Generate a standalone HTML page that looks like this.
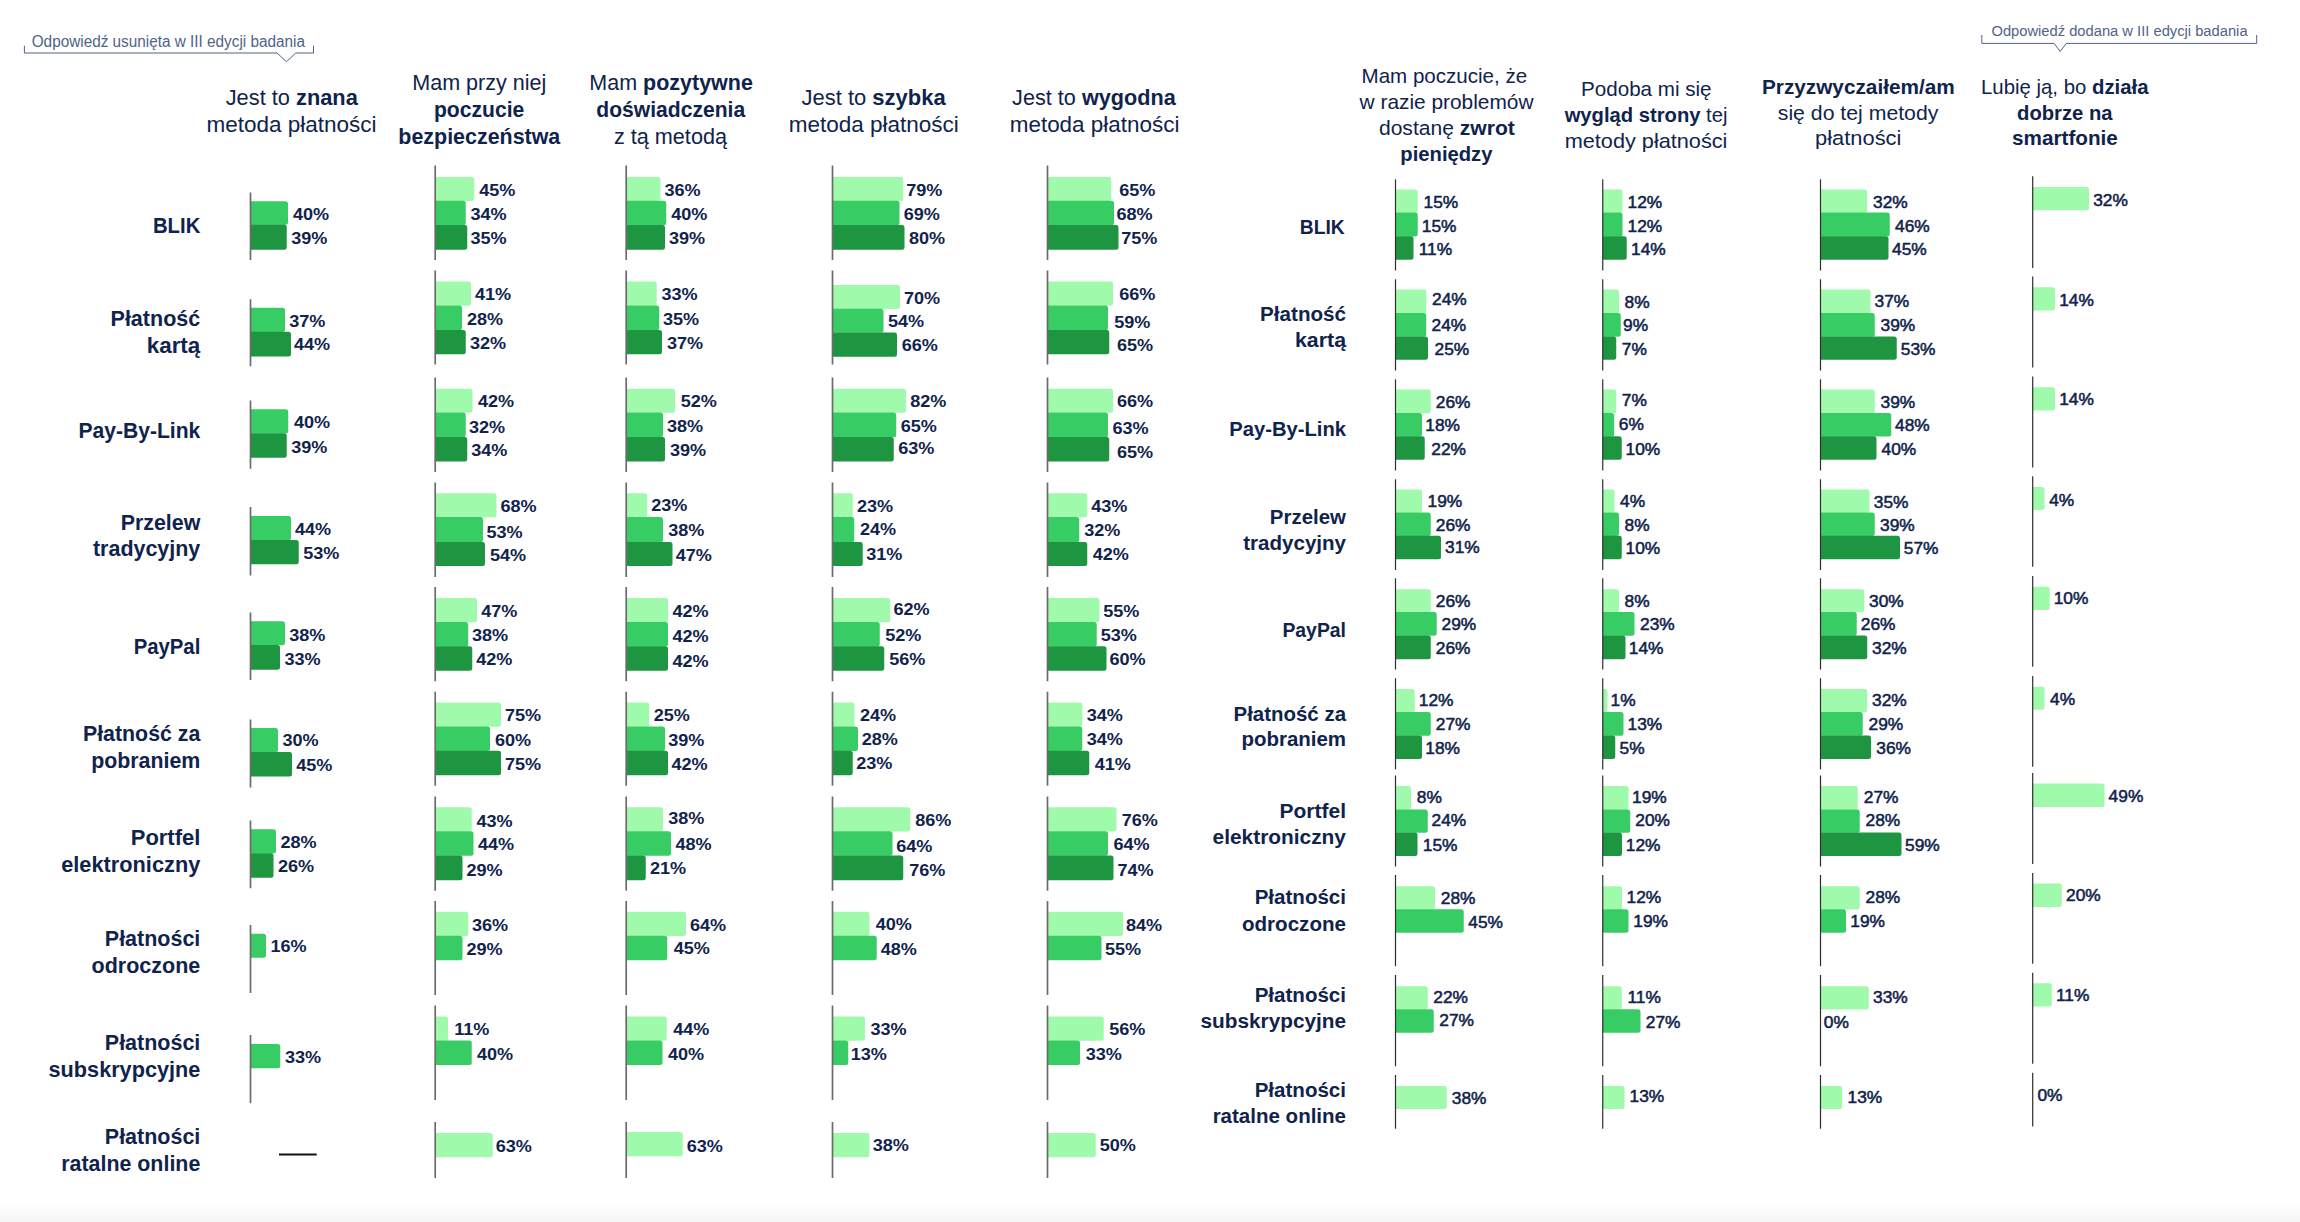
<!DOCTYPE html>
<html lang="pl"><head><meta charset="utf-8"><title>Metody płatności</title>
<style>
html,body{margin:0;padding:0;background:#fff;}
body{width:2300px;height:1222px;overflow:hidden;position:relative;font-family:"Liberation Sans",sans-serif;}
svg{position:absolute;left:0;top:0;display:block;font-family:"Liberation Sans",sans-serif;}
.fade{position:absolute;left:0;top:1203px;width:2300px;height:19px;background:linear-gradient(#fff,#f5f5f5);}
</style></head><body>
<div class="fade"></div>
<svg width="2300" height="1222" viewBox="0 0 2300 1222">
<path d="M250.50 201.25H285.50A2.5 2.5 0 0 1 288.00 203.75V222.30A2.5 2.5 0 0 1 285.50 224.80H250.50Z" fill="#38cc64"/>
<path d="M250.50 224.50H284.25A2.5 2.5 0 0 1 286.75 227.00V247.30A2.5 2.5 0 0 1 284.25 249.80H250.50Z" fill="#1e9641"/>
<path d="M250.50 192.50L250.50 260.00" stroke="#6b6b6b" stroke-width="1.7" fill="none"/>
<text transform="translate(293.00 219.56) scale(1.1300 1)" font-size="16" font-weight="700" text-anchor="start" fill="#10234c" xml:space="preserve">40%</text>
<text transform="translate(291.25 243.68) scale(1.1300 1)" font-size="16" font-weight="700" text-anchor="start" fill="#10234c" xml:space="preserve">39%</text>
<path d="M250.50 307.75H282.50A2.5 2.5 0 0 1 285.00 310.25V329.55A2.5 2.5 0 0 1 282.50 332.05H250.50Z" fill="#38cc64"/>
<path d="M250.50 331.75H288.50A2.5 2.5 0 0 1 291.00 334.25V354.05A2.5 2.5 0 0 1 288.50 356.55H250.50Z" fill="#1e9641"/>
<path d="M250.50 299.25L250.50 366.25" stroke="#6b6b6b" stroke-width="1.7" fill="none"/>
<text transform="translate(289.25 327.43) scale(1.1300 1)" font-size="16" font-weight="700" text-anchor="start" fill="#10234c" xml:space="preserve">37%</text>
<text transform="translate(294.00 349.68) scale(1.1300 1)" font-size="16" font-weight="700" text-anchor="start" fill="#10234c" xml:space="preserve">44%</text>
<path d="M250.50 409.25H285.75A2.5 2.5 0 0 1 288.25 411.75V431.05A2.5 2.5 0 0 1 285.75 433.55H250.50Z" fill="#38cc64"/>
<path d="M250.50 433.25H284.25A2.5 2.5 0 0 1 286.75 435.75V455.30A2.5 2.5 0 0 1 284.25 457.80H250.50Z" fill="#1e9641"/>
<path d="M250.50 400.50L250.50 468.75" stroke="#6b6b6b" stroke-width="1.7" fill="none"/>
<text transform="translate(294.00 427.93) scale(1.1300 1)" font-size="16" font-weight="700" text-anchor="start" fill="#10234c" xml:space="preserve">40%</text>
<text transform="translate(291.25 453.06) scale(1.1300 1)" font-size="16" font-weight="700" text-anchor="start" fill="#10234c" xml:space="preserve">39%</text>
<path d="M250.50 516.00H288.50A2.5 2.5 0 0 1 291.00 518.50V537.80A2.5 2.5 0 0 1 288.50 540.30H250.50Z" fill="#38cc64"/>
<path d="M250.50 540.00H296.25A2.5 2.5 0 0 1 298.75 542.50V561.80A2.5 2.5 0 0 1 296.25 564.30H250.50Z" fill="#1e9641"/>
<path d="M250.50 507.00L250.50 575.50" stroke="#6b6b6b" stroke-width="1.7" fill="none"/>
<text transform="translate(295.00 534.68) scale(1.1300 1)" font-size="16" font-weight="700" text-anchor="start" fill="#10234c" xml:space="preserve">44%</text>
<text transform="translate(303.25 558.68) scale(1.1300 1)" font-size="16" font-weight="700" text-anchor="start" fill="#10234c" xml:space="preserve">53%</text>
<path d="M250.50 621.25H282.50A2.5 2.5 0 0 1 285.00 623.75V642.80A2.5 2.5 0 0 1 282.50 645.30H250.50Z" fill="#38cc64"/>
<path d="M250.50 645.00H277.50A2.5 2.5 0 0 1 280.00 647.50V667.30A2.5 2.5 0 0 1 277.50 669.80H250.50Z" fill="#1e9641"/>
<path d="M250.50 612.50L250.50 680.00" stroke="#6b6b6b" stroke-width="1.7" fill="none"/>
<text transform="translate(289.25 640.80) scale(1.1300 1)" font-size="16" font-weight="700" text-anchor="start" fill="#10234c" xml:space="preserve">38%</text>
<text transform="translate(284.50 664.93) scale(1.1300 1)" font-size="16" font-weight="700" text-anchor="start" fill="#10234c" xml:space="preserve">33%</text>
<path d="M250.50 728.00H275.50A2.5 2.5 0 0 1 278.00 730.50V749.80A2.5 2.5 0 0 1 275.50 752.30H250.50Z" fill="#38cc64"/>
<path d="M250.50 752.00H289.50A2.5 2.5 0 0 1 292.00 754.50V774.05A2.5 2.5 0 0 1 289.50 776.55H250.50Z" fill="#1e9641"/>
<path d="M250.50 719.50L250.50 787.50" stroke="#6b6b6b" stroke-width="1.7" fill="none"/>
<text transform="translate(282.50 745.68) scale(1.1300 1)" font-size="16" font-weight="700" text-anchor="start" fill="#10234c" xml:space="preserve">30%</text>
<text transform="translate(296.25 770.80) scale(1.1300 1)" font-size="16" font-weight="700" text-anchor="start" fill="#10234c" xml:space="preserve">45%</text>
<path d="M250.50 829.25H273.50A2.5 2.5 0 0 1 276.00 831.75V851.05A2.5 2.5 0 0 1 273.50 853.55H250.50Z" fill="#38cc64"/>
<path d="M250.50 853.25H271.00A2.5 2.5 0 0 1 273.50 855.75V875.30A2.5 2.5 0 0 1 271.00 877.80H250.50Z" fill="#1e9641"/>
<path d="M250.50 820.50L250.50 888.25" stroke="#6b6b6b" stroke-width="1.7" fill="none"/>
<text transform="translate(280.50 847.93) scale(1.1300 1)" font-size="16" font-weight="700" text-anchor="start" fill="#10234c" xml:space="preserve">28%</text>
<text transform="translate(278.00 872.05) scale(1.1300 1)" font-size="16" font-weight="700" text-anchor="start" fill="#10234c" xml:space="preserve">26%</text>
<path d="M250.50 933.75H263.50A2.5 2.5 0 0 1 266.00 936.25V955.30A2.5 2.5 0 0 1 263.50 957.80H250.50Z" fill="#38cc64"/>
<path d="M250.50 925.00L250.50 993.00" stroke="#6b6b6b" stroke-width="1.7" fill="none"/>
<text transform="translate(270.50 952.30) scale(1.1300 1)" font-size="16" font-weight="700" text-anchor="start" fill="#10234c" xml:space="preserve">16%</text>
<path d="M250.50 1044.00H277.75A2.5 2.5 0 0 1 280.25 1046.50V1065.80A2.5 2.5 0 0 1 277.75 1068.30H250.50Z" fill="#38cc64"/>
<path d="M250.50 1035.00L250.50 1103.25" stroke="#6b6b6b" stroke-width="1.7" fill="none"/>
<text transform="translate(285.00 1062.68) scale(1.1300 1)" font-size="16" font-weight="700" text-anchor="start" fill="#10234c" xml:space="preserve">33%</text>
<path d="M435.20 177.00H471.75A2.5 2.5 0 0 1 474.25 179.50V198.55A2.5 2.5 0 0 1 471.75 201.05H435.20Z" fill="#a0faab"/>
<path d="M435.20 200.75H463.25A2.5 2.5 0 0 1 465.75 203.25V222.80A2.5 2.5 0 0 1 463.25 225.30H435.20Z" fill="#38cc64"/>
<path d="M435.20 225.00H464.75A2.5 2.5 0 0 1 467.25 227.50V247.30A2.5 2.5 0 0 1 464.75 249.80H435.20Z" fill="#1e9641"/>
<path d="M435.20 165.50L435.20 260.00" stroke="#6b6b6b" stroke-width="1.7" fill="none"/>
<text transform="translate(479.25 195.56) scale(1.1300 1)" font-size="16" font-weight="700" text-anchor="start" fill="#10234c" xml:space="preserve">45%</text>
<text transform="translate(470.50 219.56) scale(1.1300 1)" font-size="16" font-weight="700" text-anchor="start" fill="#10234c" xml:space="preserve">34%</text>
<text transform="translate(470.50 243.93) scale(1.1300 1)" font-size="16" font-weight="700" text-anchor="start" fill="#10234c" xml:space="preserve">35%</text>
<path d="M435.20 281.50H468.50A2.5 2.5 0 0 1 471.00 284.00V303.30A2.5 2.5 0 0 1 468.50 305.80H435.20Z" fill="#a0faab"/>
<path d="M435.20 305.50H459.50A2.5 2.5 0 0 1 462.00 308.00V327.80A2.5 2.5 0 0 1 459.50 330.30H435.20Z" fill="#38cc64"/>
<path d="M435.20 330.00H463.25A2.5 2.5 0 0 1 465.75 332.50V351.80A2.5 2.5 0 0 1 463.25 354.30H435.20Z" fill="#1e9641"/>
<path d="M435.20 270.50L435.20 364.50" stroke="#6b6b6b" stroke-width="1.7" fill="none"/>
<text transform="translate(475.00 300.18) scale(1.1300 1)" font-size="16" font-weight="700" text-anchor="start" fill="#10234c" xml:space="preserve">41%</text>
<text transform="translate(467.00 325.43) scale(1.1300 1)" font-size="16" font-weight="700" text-anchor="start" fill="#10234c" xml:space="preserve">28%</text>
<text transform="translate(470.00 348.68) scale(1.1300 1)" font-size="16" font-weight="700" text-anchor="start" fill="#10234c" xml:space="preserve">32%</text>
<path d="M435.20 388.75H470.00A2.5 2.5 0 0 1 472.50 391.25V410.30A2.5 2.5 0 0 1 470.00 412.80H435.20Z" fill="#a0faab"/>
<path d="M435.20 412.50H463.25A2.5 2.5 0 0 1 465.75 415.00V434.80A2.5 2.5 0 0 1 463.25 437.30H435.20Z" fill="#38cc64"/>
<path d="M435.20 437.00H464.75A2.5 2.5 0 0 1 467.25 439.50V459.05A2.5 2.5 0 0 1 464.75 461.55H435.20Z" fill="#1e9641"/>
<path d="M435.20 377.50L435.20 472.00" stroke="#6b6b6b" stroke-width="1.7" fill="none"/>
<text transform="translate(478.00 407.31) scale(1.1300 1)" font-size="16" font-weight="700" text-anchor="start" fill="#10234c" xml:space="preserve">42%</text>
<text transform="translate(469.00 433.23) scale(1.1300 1)" font-size="16" font-weight="700" text-anchor="start" fill="#10234c" xml:space="preserve">32%</text>
<text transform="translate(471.25 455.81) scale(1.1300 1)" font-size="16" font-weight="700" text-anchor="start" fill="#10234c" xml:space="preserve">34%</text>
<path d="M435.20 493.25H494.00A2.5 2.5 0 0 1 496.50 495.75V514.80A2.5 2.5 0 0 1 494.00 517.30H435.20Z" fill="#a0faab"/>
<path d="M435.20 517.00H480.50A2.5 2.5 0 0 1 483.00 519.50V539.80A2.5 2.5 0 0 1 480.50 542.30H435.20Z" fill="#38cc64"/>
<path d="M435.20 542.00H482.50A2.5 2.5 0 0 1 485.00 544.50V563.55A2.5 2.5 0 0 1 482.50 566.05H435.20Z" fill="#1e9641"/>
<path d="M435.20 482.50L435.20 577.00" stroke="#6b6b6b" stroke-width="1.7" fill="none"/>
<text transform="translate(500.50 511.81) scale(1.1300 1)" font-size="16" font-weight="700" text-anchor="start" fill="#10234c" xml:space="preserve">68%</text>
<text transform="translate(486.50 537.58) scale(1.1300 1)" font-size="16" font-weight="700" text-anchor="start" fill="#10234c" xml:space="preserve">53%</text>
<text transform="translate(490.00 560.55) scale(1.1300 1)" font-size="16" font-weight="700" text-anchor="start" fill="#10234c" xml:space="preserve">54%</text>
<path d="M435.20 598.00H474.50A2.5 2.5 0 0 1 477.00 600.50V619.80A2.5 2.5 0 0 1 474.50 622.30H435.20Z" fill="#a0faab"/>
<path d="M435.20 622.00H465.75A2.5 2.5 0 0 1 468.25 624.50V644.05A2.5 2.5 0 0 1 465.75 646.55H435.20Z" fill="#38cc64"/>
<path d="M435.20 646.25H469.75A2.5 2.5 0 0 1 472.25 648.75V668.30A2.5 2.5 0 0 1 469.75 670.80H435.20Z" fill="#1e9641"/>
<path d="M435.20 587.00L435.20 681.25" stroke="#6b6b6b" stroke-width="1.7" fill="none"/>
<text transform="translate(481.25 616.68) scale(1.1300 1)" font-size="16" font-weight="700" text-anchor="start" fill="#10234c" xml:space="preserve">47%</text>
<text transform="translate(472.00 640.80) scale(1.1300 1)" font-size="16" font-weight="700" text-anchor="start" fill="#10234c" xml:space="preserve">38%</text>
<text transform="translate(476.25 665.05) scale(1.1300 1)" font-size="16" font-weight="700" text-anchor="start" fill="#10234c" xml:space="preserve">42%</text>
<path d="M435.20 702.50H498.50A2.5 2.5 0 0 1 501.00 705.00V724.30A2.5 2.5 0 0 1 498.50 726.80H435.20Z" fill="#a0faab"/>
<path d="M435.20 726.50H487.50A2.5 2.5 0 0 1 490.00 729.00V748.55A2.5 2.5 0 0 1 487.50 751.05H435.20Z" fill="#38cc64"/>
<path d="M435.20 750.75H498.50A2.5 2.5 0 0 1 501.00 753.25V772.80A2.5 2.5 0 0 1 498.50 775.30H435.20Z" fill="#1e9641"/>
<path d="M435.20 691.75L435.20 785.75" stroke="#6b6b6b" stroke-width="1.7" fill="none"/>
<text transform="translate(505.00 721.18) scale(1.1300 1)" font-size="16" font-weight="700" text-anchor="start" fill="#10234c" xml:space="preserve">75%</text>
<text transform="translate(495.00 746.30) scale(1.1300 1)" font-size="16" font-weight="700" text-anchor="start" fill="#10234c" xml:space="preserve">60%</text>
<text transform="translate(505.00 769.55) scale(1.1300 1)" font-size="16" font-weight="700" text-anchor="start" fill="#10234c" xml:space="preserve">75%</text>
<path d="M435.20 807.25H469.25A2.5 2.5 0 0 1 471.75 809.75V829.05A2.5 2.5 0 0 1 469.25 831.55H435.20Z" fill="#a0faab"/>
<path d="M435.20 831.25H471.00A2.5 2.5 0 0 1 473.50 833.75V853.30A2.5 2.5 0 0 1 471.00 855.80H435.20Z" fill="#38cc64"/>
<path d="M435.20 855.50H460.00A2.5 2.5 0 0 1 462.50 858.00V877.80A2.5 2.5 0 0 1 460.00 880.30H435.20Z" fill="#1e9641"/>
<path d="M435.20 796.50L435.20 890.75" stroke="#6b6b6b" stroke-width="1.7" fill="none"/>
<text transform="translate(476.50 827.43) scale(1.1300 1)" font-size="16" font-weight="700" text-anchor="start" fill="#10234c" xml:space="preserve">43%</text>
<text transform="translate(478.00 850.05) scale(1.1300 1)" font-size="16" font-weight="700" text-anchor="start" fill="#10234c" xml:space="preserve">44%</text>
<text transform="translate(466.50 875.93) scale(1.1300 1)" font-size="16" font-weight="700" text-anchor="start" fill="#10234c" xml:space="preserve">29%</text>
<path d="M435.20 911.75H465.75A2.5 2.5 0 0 1 468.25 914.25V933.55A2.5 2.5 0 0 1 465.75 936.05H435.20Z" fill="#a0faab"/>
<path d="M435.20 935.75H460.00A2.5 2.5 0 0 1 462.50 938.25V957.80A2.5 2.5 0 0 1 460.00 960.30H435.20Z" fill="#38cc64"/>
<path d="M435.20 901.00L435.20 995.00" stroke="#6b6b6b" stroke-width="1.7" fill="none"/>
<text transform="translate(472.00 931.43) scale(1.1300 1)" font-size="16" font-weight="700" text-anchor="start" fill="#10234c" xml:space="preserve">36%</text>
<text transform="translate(466.50 954.55) scale(1.1300 1)" font-size="16" font-weight="700" text-anchor="start" fill="#10234c" xml:space="preserve">29%</text>
<path d="M435.20 1016.50H445.50A2.5 2.5 0 0 1 448.00 1019.00V1038.30A2.5 2.5 0 0 1 445.50 1040.80H435.20Z" fill="#a0faab"/>
<path d="M435.20 1040.50H469.25A2.5 2.5 0 0 1 471.75 1043.00V1062.55A2.5 2.5 0 0 1 469.25 1065.05H435.20Z" fill="#38cc64"/>
<path d="M435.20 1005.50L435.20 1100.00" stroke="#6b6b6b" stroke-width="1.7" fill="none"/>
<text transform="translate(454.25 1035.18) scale(1.1300 1)" font-size="16" font-weight="700" text-anchor="start" fill="#10234c" xml:space="preserve">11%</text>
<text transform="translate(477.00 1060.31) scale(1.1300 1)" font-size="16" font-weight="700" text-anchor="start" fill="#10234c" xml:space="preserve">40%</text>
<path d="M435.20 1133.00H490.25A2.5 2.5 0 0 1 492.75 1135.50V1154.80A2.5 2.5 0 0 1 490.25 1157.30H435.20Z" fill="#a0faab"/>
<path d="M435.20 1122.00L435.20 1178.00" stroke="#6b6b6b" stroke-width="1.7" fill="none"/>
<text transform="translate(495.75 1151.68) scale(1.1300 1)" font-size="16" font-weight="700" text-anchor="start" fill="#10234c" xml:space="preserve">63%</text>
<path d="M626.20 177.00H658.00A2.5 2.5 0 0 1 660.50 179.50V198.55A2.5 2.5 0 0 1 658.00 201.05H626.20Z" fill="#a0faab"/>
<path d="M626.20 200.75H663.75A2.5 2.5 0 0 1 666.25 203.25V222.80A2.5 2.5 0 0 1 663.75 225.30H626.20Z" fill="#38cc64"/>
<path d="M626.20 225.00H662.50A2.5 2.5 0 0 1 665.00 227.50V247.30A2.5 2.5 0 0 1 662.50 249.80H626.20Z" fill="#1e9641"/>
<path d="M626.20 165.50L626.20 260.00" stroke="#6b6b6b" stroke-width="1.7" fill="none"/>
<text transform="translate(664.50 195.56) scale(1.1300 1)" font-size="16" font-weight="700" text-anchor="start" fill="#10234c" xml:space="preserve">36%</text>
<text transform="translate(671.25 219.56) scale(1.1300 1)" font-size="16" font-weight="700" text-anchor="start" fill="#10234c" xml:space="preserve">40%</text>
<text transform="translate(669.00 243.93) scale(1.1300 1)" font-size="16" font-weight="700" text-anchor="start" fill="#10234c" xml:space="preserve">39%</text>
<path d="M626.20 281.50H654.25A2.5 2.5 0 0 1 656.75 284.00V303.30A2.5 2.5 0 0 1 654.25 305.80H626.20Z" fill="#a0faab"/>
<path d="M626.20 305.50H656.75A2.5 2.5 0 0 1 659.25 308.00V327.80A2.5 2.5 0 0 1 656.75 330.30H626.20Z" fill="#38cc64"/>
<path d="M626.20 330.00H659.50A2.5 2.5 0 0 1 662.00 332.50V351.80A2.5 2.5 0 0 1 659.50 354.30H626.20Z" fill="#1e9641"/>
<path d="M626.20 270.50L626.20 364.50" stroke="#6b6b6b" stroke-width="1.7" fill="none"/>
<text transform="translate(661.50 300.18) scale(1.1300 1)" font-size="16" font-weight="700" text-anchor="start" fill="#10234c" xml:space="preserve">33%</text>
<text transform="translate(663.00 325.43) scale(1.1300 1)" font-size="16" font-weight="700" text-anchor="start" fill="#10234c" xml:space="preserve">35%</text>
<text transform="translate(667.00 348.68) scale(1.1300 1)" font-size="16" font-weight="700" text-anchor="start" fill="#10234c" xml:space="preserve">37%</text>
<path d="M626.20 388.75H672.50A2.5 2.5 0 0 1 675.00 391.25V410.30A2.5 2.5 0 0 1 672.50 412.80H626.20Z" fill="#a0faab"/>
<path d="M626.20 412.50H660.50A2.5 2.5 0 0 1 663.00 415.00V434.80A2.5 2.5 0 0 1 660.50 437.30H626.20Z" fill="#38cc64"/>
<path d="M626.20 437.00H662.50A2.5 2.5 0 0 1 665.00 439.50V459.05A2.5 2.5 0 0 1 662.50 461.55H626.20Z" fill="#1e9641"/>
<path d="M626.20 377.50L626.20 472.00" stroke="#6b6b6b" stroke-width="1.7" fill="none"/>
<text transform="translate(680.75 407.31) scale(1.1300 1)" font-size="16" font-weight="700" text-anchor="start" fill="#10234c" xml:space="preserve">52%</text>
<text transform="translate(667.00 432.43) scale(1.1300 1)" font-size="16" font-weight="700" text-anchor="start" fill="#10234c" xml:space="preserve">38%</text>
<text transform="translate(670.00 455.81) scale(1.1300 1)" font-size="16" font-weight="700" text-anchor="start" fill="#10234c" xml:space="preserve">39%</text>
<path d="M626.20 493.25H644.75A2.5 2.5 0 0 1 647.25 495.75V514.80A2.5 2.5 0 0 1 644.75 517.30H626.20Z" fill="#a0faab"/>
<path d="M626.20 517.00H660.50A2.5 2.5 0 0 1 663.00 519.50V539.80A2.5 2.5 0 0 1 660.50 542.30H626.20Z" fill="#38cc64"/>
<path d="M626.20 542.00H670.00A2.5 2.5 0 0 1 672.50 544.50V563.55A2.5 2.5 0 0 1 670.00 566.05H626.20Z" fill="#1e9641"/>
<path d="M626.20 482.50L626.20 577.00" stroke="#6b6b6b" stroke-width="1.7" fill="none"/>
<text transform="translate(651.25 510.81) scale(1.1300 1)" font-size="16" font-weight="700" text-anchor="start" fill="#10234c" xml:space="preserve">23%</text>
<text transform="translate(668.25 536.18) scale(1.1300 1)" font-size="16" font-weight="700" text-anchor="start" fill="#10234c" xml:space="preserve">38%</text>
<text transform="translate(675.75 560.55) scale(1.1300 1)" font-size="16" font-weight="700" text-anchor="start" fill="#10234c" xml:space="preserve">47%</text>
<path d="M626.20 598.00H665.50A2.5 2.5 0 0 1 668.00 600.50V619.80A2.5 2.5 0 0 1 665.50 622.30H626.20Z" fill="#a0faab"/>
<path d="M626.20 622.00H665.50A2.5 2.5 0 0 1 668.00 624.50V644.05A2.5 2.5 0 0 1 665.50 646.55H626.20Z" fill="#38cc64"/>
<path d="M626.20 646.25H665.50A2.5 2.5 0 0 1 668.00 648.75V668.30A2.5 2.5 0 0 1 665.50 670.80H626.20Z" fill="#1e9641"/>
<path d="M626.20 587.00L626.20 681.25" stroke="#6b6b6b" stroke-width="1.7" fill="none"/>
<text transform="translate(672.50 616.68) scale(1.1300 1)" font-size="16" font-weight="700" text-anchor="start" fill="#10234c" xml:space="preserve">42%</text>
<text transform="translate(672.50 641.80) scale(1.1300 1)" font-size="16" font-weight="700" text-anchor="start" fill="#10234c" xml:space="preserve">42%</text>
<text transform="translate(672.50 667.35) scale(1.1300 1)" font-size="16" font-weight="700" text-anchor="start" fill="#10234c" xml:space="preserve">42%</text>
<path d="M626.20 702.50H646.75A2.5 2.5 0 0 1 649.25 705.00V724.30A2.5 2.5 0 0 1 646.75 726.80H626.20Z" fill="#a0faab"/>
<path d="M626.20 726.50H662.50A2.5 2.5 0 0 1 665.00 729.00V748.55A2.5 2.5 0 0 1 662.50 751.05H626.20Z" fill="#38cc64"/>
<path d="M626.20 750.75H665.50A2.5 2.5 0 0 1 668.00 753.25V772.80A2.5 2.5 0 0 1 665.50 775.30H626.20Z" fill="#1e9641"/>
<path d="M626.20 691.75L626.20 785.75" stroke="#6b6b6b" stroke-width="1.7" fill="none"/>
<text transform="translate(653.75 721.18) scale(1.1300 1)" font-size="16" font-weight="700" text-anchor="start" fill="#10234c" xml:space="preserve">25%</text>
<text transform="translate(668.25 746.30) scale(1.1300 1)" font-size="16" font-weight="700" text-anchor="start" fill="#10234c" xml:space="preserve">39%</text>
<text transform="translate(671.50 769.55) scale(1.1300 1)" font-size="16" font-weight="700" text-anchor="start" fill="#10234c" xml:space="preserve">42%</text>
<path d="M626.20 807.25H660.50A2.5 2.5 0 0 1 663.00 809.75V829.05A2.5 2.5 0 0 1 660.50 831.55H626.20Z" fill="#a0faab"/>
<path d="M626.20 831.25H668.50A2.5 2.5 0 0 1 671.00 833.75V853.30A2.5 2.5 0 0 1 668.50 855.80H626.20Z" fill="#38cc64"/>
<path d="M626.20 855.50H643.25A2.5 2.5 0 0 1 645.75 858.00V877.80A2.5 2.5 0 0 1 643.25 880.30H626.20Z" fill="#1e9641"/>
<path d="M626.20 796.50L626.20 890.75" stroke="#6b6b6b" stroke-width="1.7" fill="none"/>
<text transform="translate(668.25 824.43) scale(1.1300 1)" font-size="16" font-weight="700" text-anchor="start" fill="#10234c" xml:space="preserve">38%</text>
<text transform="translate(675.50 850.05) scale(1.1300 1)" font-size="16" font-weight="700" text-anchor="start" fill="#10234c" xml:space="preserve">48%</text>
<text transform="translate(650.00 874.43) scale(1.1300 1)" font-size="16" font-weight="700" text-anchor="start" fill="#10234c" xml:space="preserve">21%</text>
<path d="M626.20 911.75H683.50A2.5 2.5 0 0 1 686.00 914.25V933.55A2.5 2.5 0 0 1 683.50 936.05H626.20Z" fill="#a0faab"/>
<path d="M626.20 935.75H664.75A2.5 2.5 0 0 1 667.25 938.25V957.80A2.5 2.5 0 0 1 664.75 960.30H626.20Z" fill="#38cc64"/>
<path d="M626.20 901.00L626.20 995.00" stroke="#6b6b6b" stroke-width="1.7" fill="none"/>
<text transform="translate(690.00 931.43) scale(1.1300 1)" font-size="16" font-weight="700" text-anchor="start" fill="#10234c" xml:space="preserve">64%</text>
<text transform="translate(673.75 953.55) scale(1.1300 1)" font-size="16" font-weight="700" text-anchor="start" fill="#10234c" xml:space="preserve">45%</text>
<path d="M626.20 1016.50H664.25A2.5 2.5 0 0 1 666.75 1019.00V1038.30A2.5 2.5 0 0 1 664.25 1040.80H626.20Z" fill="#a0faab"/>
<path d="M626.20 1040.50H660.00A2.5 2.5 0 0 1 662.50 1043.00V1062.55A2.5 2.5 0 0 1 660.00 1065.05H626.20Z" fill="#38cc64"/>
<path d="M626.20 1005.50L626.20 1100.00" stroke="#6b6b6b" stroke-width="1.7" fill="none"/>
<text transform="translate(673.25 1035.18) scale(1.1300 1)" font-size="16" font-weight="700" text-anchor="start" fill="#10234c" xml:space="preserve">44%</text>
<text transform="translate(668.00 1060.31) scale(1.1300 1)" font-size="16" font-weight="700" text-anchor="start" fill="#10234c" xml:space="preserve">40%</text>
<path d="M626.20 1132.00H680.25A2.5 2.5 0 0 1 682.75 1134.50V1153.80A2.5 2.5 0 0 1 680.25 1156.30H626.20Z" fill="#a0faab"/>
<path d="M626.20 1122.00L626.20 1178.00" stroke="#6b6b6b" stroke-width="1.7" fill="none"/>
<text transform="translate(686.75 1151.68) scale(1.1300 1)" font-size="16" font-weight="700" text-anchor="start" fill="#10234c" xml:space="preserve">63%</text>
<path d="M832.50 177.00H900.75A2.5 2.5 0 0 1 903.25 179.50V198.55A2.5 2.5 0 0 1 900.75 201.05H832.50Z" fill="#a0faab"/>
<path d="M832.50 200.75H897.00A2.5 2.5 0 0 1 899.50 203.25V222.80A2.5 2.5 0 0 1 897.00 225.30H832.50Z" fill="#38cc64"/>
<path d="M832.50 225.00H902.00A2.5 2.5 0 0 1 904.50 227.50V247.30A2.5 2.5 0 0 1 902.00 249.80H832.50Z" fill="#1e9641"/>
<path d="M832.50 165.50L832.50 260.00" stroke="#6b6b6b" stroke-width="1.7" fill="none"/>
<text transform="translate(906.25 195.56) scale(1.1300 1)" font-size="16" font-weight="700" text-anchor="start" fill="#10234c" xml:space="preserve">79%</text>
<text transform="translate(903.75 219.56) scale(1.1300 1)" font-size="16" font-weight="700" text-anchor="start" fill="#10234c" xml:space="preserve">69%</text>
<text transform="translate(909.00 243.93) scale(1.1300 1)" font-size="16" font-weight="700" text-anchor="start" fill="#10234c" xml:space="preserve">80%</text>
<path d="M832.50 285.00H897.50A2.5 2.5 0 0 1 900.00 287.50V306.55A2.5 2.5 0 0 1 897.50 309.05H832.50Z" fill="#a0faab"/>
<path d="M832.50 308.75H881.00A2.5 2.5 0 0 1 883.50 311.25V330.30A2.5 2.5 0 0 1 881.00 332.80H832.50Z" fill="#38cc64"/>
<path d="M832.50 332.50H894.50A2.5 2.5 0 0 1 897.00 335.00V354.30A2.5 2.5 0 0 1 894.50 356.80H832.50Z" fill="#1e9641"/>
<path d="M832.50 270.50L832.50 364.50" stroke="#6b6b6b" stroke-width="1.7" fill="none"/>
<text transform="translate(904.00 303.56) scale(1.1300 1)" font-size="16" font-weight="700" text-anchor="start" fill="#10234c" xml:space="preserve">70%</text>
<text transform="translate(888.00 327.31) scale(1.1300 1)" font-size="16" font-weight="700" text-anchor="start" fill="#10234c" xml:space="preserve">54%</text>
<text transform="translate(901.75 351.18) scale(1.1300 1)" font-size="16" font-weight="700" text-anchor="start" fill="#10234c" xml:space="preserve">66%</text>
<path d="M832.50 388.75H903.50A2.5 2.5 0 0 1 906.00 391.25V410.30A2.5 2.5 0 0 1 903.50 412.80H832.50Z" fill="#a0faab"/>
<path d="M832.50 412.50H893.75A2.5 2.5 0 0 1 896.25 415.00V434.80A2.5 2.5 0 0 1 893.75 437.30H832.50Z" fill="#38cc64"/>
<path d="M832.50 437.00H891.25A2.5 2.5 0 0 1 893.75 439.50V459.05A2.5 2.5 0 0 1 891.25 461.55H832.50Z" fill="#1e9641"/>
<path d="M832.50 377.50L832.50 472.00" stroke="#6b6b6b" stroke-width="1.7" fill="none"/>
<text transform="translate(910.25 407.31) scale(1.1300 1)" font-size="16" font-weight="700" text-anchor="start" fill="#10234c" xml:space="preserve">82%</text>
<text transform="translate(900.75 432.43) scale(1.1300 1)" font-size="16" font-weight="700" text-anchor="start" fill="#10234c" xml:space="preserve">65%</text>
<text transform="translate(898.25 454.41) scale(1.1300 1)" font-size="16" font-weight="700" text-anchor="start" fill="#10234c" xml:space="preserve">63%</text>
<path d="M832.50 493.25H850.25A2.5 2.5 0 0 1 852.75 495.75V514.80A2.5 2.5 0 0 1 850.25 517.30H832.50Z" fill="#a0faab"/>
<path d="M832.50 517.00H851.75A2.5 2.5 0 0 1 854.25 519.50V539.80A2.5 2.5 0 0 1 851.75 542.30H832.50Z" fill="#38cc64"/>
<path d="M832.50 542.00H860.25A2.5 2.5 0 0 1 862.75 544.50V563.55A2.5 2.5 0 0 1 860.25 566.05H832.50Z" fill="#1e9641"/>
<path d="M832.50 482.50L832.50 577.00" stroke="#6b6b6b" stroke-width="1.7" fill="none"/>
<text transform="translate(857.00 511.81) scale(1.1300 1)" font-size="16" font-weight="700" text-anchor="start" fill="#10234c" xml:space="preserve">23%</text>
<text transform="translate(860.00 534.78) scale(1.1300 1)" font-size="16" font-weight="700" text-anchor="start" fill="#10234c" xml:space="preserve">24%</text>
<text transform="translate(866.25 559.55) scale(1.1300 1)" font-size="16" font-weight="700" text-anchor="start" fill="#10234c" xml:space="preserve">31%</text>
<path d="M832.50 598.00H887.75A2.5 2.5 0 0 1 890.25 600.50V619.80A2.5 2.5 0 0 1 887.75 622.30H832.50Z" fill="#a0faab"/>
<path d="M832.50 622.00H877.25A2.5 2.5 0 0 1 879.75 624.50V644.05A2.5 2.5 0 0 1 877.25 646.55H832.50Z" fill="#38cc64"/>
<path d="M832.50 646.25H881.75A2.5 2.5 0 0 1 884.25 648.75V668.30A2.5 2.5 0 0 1 881.75 670.80H832.50Z" fill="#1e9641"/>
<path d="M832.50 587.00L832.50 681.25" stroke="#6b6b6b" stroke-width="1.7" fill="none"/>
<text transform="translate(893.50 615.28) scale(1.1300 1)" font-size="16" font-weight="700" text-anchor="start" fill="#10234c" xml:space="preserve">62%</text>
<text transform="translate(885.25 640.80) scale(1.1300 1)" font-size="16" font-weight="700" text-anchor="start" fill="#10234c" xml:space="preserve">52%</text>
<text transform="translate(889.25 665.05) scale(1.1300 1)" font-size="16" font-weight="700" text-anchor="start" fill="#10234c" xml:space="preserve">56%</text>
<path d="M832.50 702.50H852.00A2.5 2.5 0 0 1 854.50 705.00V724.30A2.5 2.5 0 0 1 852.00 726.80H832.50Z" fill="#a0faab"/>
<path d="M832.50 726.50H855.50A2.5 2.5 0 0 1 858.00 729.00V748.55A2.5 2.5 0 0 1 855.50 751.05H832.50Z" fill="#38cc64"/>
<path d="M832.50 750.75H850.25A2.5 2.5 0 0 1 852.75 753.25V772.80A2.5 2.5 0 0 1 850.25 775.30H832.50Z" fill="#1e9641"/>
<path d="M832.50 691.75L832.50 785.75" stroke="#6b6b6b" stroke-width="1.7" fill="none"/>
<text transform="translate(860.00 721.18) scale(1.1300 1)" font-size="16" font-weight="700" text-anchor="start" fill="#10234c" xml:space="preserve">24%</text>
<text transform="translate(861.75 745.30) scale(1.1300 1)" font-size="16" font-weight="700" text-anchor="start" fill="#10234c" xml:space="preserve">28%</text>
<text transform="translate(856.25 768.55) scale(1.1300 1)" font-size="16" font-weight="700" text-anchor="start" fill="#10234c" xml:space="preserve">23%</text>
<path d="M832.50 807.25H907.75A2.5 2.5 0 0 1 910.25 809.75V829.05A2.5 2.5 0 0 1 907.75 831.55H832.50Z" fill="#a0faab"/>
<path d="M832.50 831.25H890.00A2.5 2.5 0 0 1 892.50 833.75V853.30A2.5 2.5 0 0 1 890.00 855.80H832.50Z" fill="#38cc64"/>
<path d="M832.50 855.50H900.75A2.5 2.5 0 0 1 903.25 858.00V877.80A2.5 2.5 0 0 1 900.75 880.30H832.50Z" fill="#1e9641"/>
<path d="M832.50 796.50L832.50 890.75" stroke="#6b6b6b" stroke-width="1.7" fill="none"/>
<text transform="translate(915.25 825.93) scale(1.1300 1)" font-size="16" font-weight="700" text-anchor="start" fill="#10234c" xml:space="preserve">86%</text>
<text transform="translate(896.25 851.55) scale(1.1300 1)" font-size="16" font-weight="700" text-anchor="start" fill="#10234c" xml:space="preserve">64%</text>
<text transform="translate(909.25 876.43) scale(1.1300 1)" font-size="16" font-weight="700" text-anchor="start" fill="#10234c" xml:space="preserve">76%</text>
<path d="M832.50 911.75H867.00A2.5 2.5 0 0 1 869.50 914.25V933.55A2.5 2.5 0 0 1 867.00 936.05H832.50Z" fill="#a0faab"/>
<path d="M832.50 935.75H874.25A2.5 2.5 0 0 1 876.75 938.25V957.80A2.5 2.5 0 0 1 874.25 960.30H832.50Z" fill="#38cc64"/>
<path d="M832.50 901.00L832.50 995.00" stroke="#6b6b6b" stroke-width="1.7" fill="none"/>
<text transform="translate(875.75 930.43) scale(1.1300 1)" font-size="16" font-weight="700" text-anchor="start" fill="#10234c" xml:space="preserve">40%</text>
<text transform="translate(880.75 954.55) scale(1.1300 1)" font-size="16" font-weight="700" text-anchor="start" fill="#10234c" xml:space="preserve">48%</text>
<path d="M832.50 1016.50H862.50A2.5 2.5 0 0 1 865.00 1019.00V1038.30A2.5 2.5 0 0 1 862.50 1040.80H832.50Z" fill="#a0faab"/>
<path d="M832.50 1040.50H845.75A2.5 2.5 0 0 1 848.25 1043.00V1062.55A2.5 2.5 0 0 1 845.75 1065.05H832.50Z" fill="#38cc64"/>
<path d="M832.50 1005.50L832.50 1100.00" stroke="#6b6b6b" stroke-width="1.7" fill="none"/>
<text transform="translate(870.50 1035.18) scale(1.1300 1)" font-size="16" font-weight="700" text-anchor="start" fill="#10234c" xml:space="preserve">33%</text>
<text transform="translate(850.75 1060.31) scale(1.1300 1)" font-size="16" font-weight="700" text-anchor="start" fill="#10234c" xml:space="preserve">13%</text>
<path d="M832.50 1133.00H867.00A2.5 2.5 0 0 1 869.50 1135.50V1154.80A2.5 2.5 0 0 1 867.00 1157.30H832.50Z" fill="#a0faab"/>
<path d="M832.50 1122.00L832.50 1178.00" stroke="#6b6b6b" stroke-width="1.7" fill="none"/>
<text transform="translate(872.75 1150.68) scale(1.1300 1)" font-size="16" font-weight="700" text-anchor="start" fill="#10234c" xml:space="preserve">38%</text>
<path d="M1047.50 177.00H1108.75A2.5 2.5 0 0 1 1111.25 179.50V198.55A2.5 2.5 0 0 1 1108.75 201.05H1047.50Z" fill="#a0faab"/>
<path d="M1047.50 200.75H1111.50A2.5 2.5 0 0 1 1114.00 203.25V222.80A2.5 2.5 0 0 1 1111.50 225.30H1047.50Z" fill="#38cc64"/>
<path d="M1047.50 225.00H1116.00A2.5 2.5 0 0 1 1118.50 227.50V247.30A2.5 2.5 0 0 1 1116.00 249.80H1047.50Z" fill="#1e9641"/>
<path d="M1047.50 165.50L1047.50 260.00" stroke="#6b6b6b" stroke-width="1.7" fill="none"/>
<text transform="translate(1119.25 195.56) scale(1.1300 1)" font-size="16" font-weight="700" text-anchor="start" fill="#10234c" xml:space="preserve">65%</text>
<text transform="translate(1116.50 219.56) scale(1.1300 1)" font-size="16" font-weight="700" text-anchor="start" fill="#10234c" xml:space="preserve">68%</text>
<text transform="translate(1121.25 243.93) scale(1.1300 1)" font-size="16" font-weight="700" text-anchor="start" fill="#10234c" xml:space="preserve">75%</text>
<path d="M1047.50 281.50H1110.50A2.5 2.5 0 0 1 1113.00 284.00V303.30A2.5 2.5 0 0 1 1110.50 305.80H1047.50Z" fill="#a0faab"/>
<path d="M1047.50 305.50H1105.50A2.5 2.5 0 0 1 1108.00 308.00V327.80A2.5 2.5 0 0 1 1105.50 330.30H1047.50Z" fill="#38cc64"/>
<path d="M1047.50 330.00H1106.75A2.5 2.5 0 0 1 1109.25 332.50V351.80A2.5 2.5 0 0 1 1106.75 354.30H1047.50Z" fill="#1e9641"/>
<path d="M1047.50 270.50L1047.50 364.50" stroke="#6b6b6b" stroke-width="1.7" fill="none"/>
<text transform="translate(1119.25 300.18) scale(1.1300 1)" font-size="16" font-weight="700" text-anchor="start" fill="#10234c" xml:space="preserve">66%</text>
<text transform="translate(1114.25 327.63) scale(1.1300 1)" font-size="16" font-weight="700" text-anchor="start" fill="#10234c" xml:space="preserve">59%</text>
<text transform="translate(1117.00 350.98) scale(1.1300 1)" font-size="16" font-weight="700" text-anchor="start" fill="#10234c" xml:space="preserve">65%</text>
<path d="M1047.50 388.75H1110.50A2.5 2.5 0 0 1 1113.00 391.25V410.30A2.5 2.5 0 0 1 1110.50 412.80H1047.50Z" fill="#a0faab"/>
<path d="M1047.50 412.50H1105.50A2.5 2.5 0 0 1 1108.00 415.00V434.80A2.5 2.5 0 0 1 1105.50 437.30H1047.50Z" fill="#38cc64"/>
<path d="M1047.50 437.00H1106.75A2.5 2.5 0 0 1 1109.25 439.50V459.05A2.5 2.5 0 0 1 1106.75 461.55H1047.50Z" fill="#1e9641"/>
<path d="M1047.50 377.50L1047.50 472.00" stroke="#6b6b6b" stroke-width="1.7" fill="none"/>
<text transform="translate(1117.00 407.31) scale(1.1300 1)" font-size="16" font-weight="700" text-anchor="start" fill="#10234c" xml:space="preserve">66%</text>
<text transform="translate(1112.50 433.73) scale(1.1300 1)" font-size="16" font-weight="700" text-anchor="start" fill="#10234c" xml:space="preserve">63%</text>
<text transform="translate(1117.00 458.11) scale(1.1300 1)" font-size="16" font-weight="700" text-anchor="start" fill="#10234c" xml:space="preserve">65%</text>
<path d="M1047.50 493.25H1084.75A2.5 2.5 0 0 1 1087.25 495.75V514.80A2.5 2.5 0 0 1 1084.75 517.30H1047.50Z" fill="#a0faab"/>
<path d="M1047.50 517.00H1076.75A2.5 2.5 0 0 1 1079.25 519.50V539.80A2.5 2.5 0 0 1 1076.75 542.30H1047.50Z" fill="#38cc64"/>
<path d="M1047.50 542.00H1084.75A2.5 2.5 0 0 1 1087.25 544.50V563.55A2.5 2.5 0 0 1 1084.75 566.05H1047.50Z" fill="#1e9641"/>
<path d="M1047.50 482.50L1047.50 577.00" stroke="#6b6b6b" stroke-width="1.7" fill="none"/>
<text transform="translate(1091.25 511.81) scale(1.1300 1)" font-size="16" font-weight="700" text-anchor="start" fill="#10234c" xml:space="preserve">43%</text>
<text transform="translate(1084.25 536.18) scale(1.1300 1)" font-size="16" font-weight="700" text-anchor="start" fill="#10234c" xml:space="preserve">32%</text>
<text transform="translate(1092.75 559.55) scale(1.1300 1)" font-size="16" font-weight="700" text-anchor="start" fill="#10234c" xml:space="preserve">42%</text>
<path d="M1047.50 598.00H1097.00A2.5 2.5 0 0 1 1099.50 600.50V619.80A2.5 2.5 0 0 1 1097.00 622.30H1047.50Z" fill="#a0faab"/>
<path d="M1047.50 622.00H1094.25A2.5 2.5 0 0 1 1096.75 624.50V644.05A2.5 2.5 0 0 1 1094.25 646.55H1047.50Z" fill="#38cc64"/>
<path d="M1047.50 646.25H1104.00A2.5 2.5 0 0 1 1106.50 648.75V668.30A2.5 2.5 0 0 1 1104.00 670.80H1047.50Z" fill="#1e9641"/>
<path d="M1047.50 587.00L1047.50 681.25" stroke="#6b6b6b" stroke-width="1.7" fill="none"/>
<text transform="translate(1103.25 616.68) scale(1.1300 1)" font-size="16" font-weight="700" text-anchor="start" fill="#10234c" xml:space="preserve">55%</text>
<text transform="translate(1100.75 640.80) scale(1.1300 1)" font-size="16" font-weight="700" text-anchor="start" fill="#10234c" xml:space="preserve">53%</text>
<text transform="translate(1109.50 665.05) scale(1.1300 1)" font-size="16" font-weight="700" text-anchor="start" fill="#10234c" xml:space="preserve">60%</text>
<path d="M1047.50 702.50H1079.75A2.5 2.5 0 0 1 1082.25 705.00V724.30A2.5 2.5 0 0 1 1079.75 726.80H1047.50Z" fill="#a0faab"/>
<path d="M1047.50 726.50H1079.75A2.5 2.5 0 0 1 1082.25 729.00V748.55A2.5 2.5 0 0 1 1079.75 751.05H1047.50Z" fill="#38cc64"/>
<path d="M1047.50 750.75H1086.75A2.5 2.5 0 0 1 1089.25 753.25V772.80A2.5 2.5 0 0 1 1086.75 775.30H1047.50Z" fill="#1e9641"/>
<path d="M1047.50 691.75L1047.50 785.75" stroke="#6b6b6b" stroke-width="1.7" fill="none"/>
<text transform="translate(1086.75 721.18) scale(1.1300 1)" font-size="16" font-weight="700" text-anchor="start" fill="#10234c" xml:space="preserve">34%</text>
<text transform="translate(1086.75 745.30) scale(1.1300 1)" font-size="16" font-weight="700" text-anchor="start" fill="#10234c" xml:space="preserve">34%</text>
<text transform="translate(1094.75 769.55) scale(1.1300 1)" font-size="16" font-weight="700" text-anchor="start" fill="#10234c" xml:space="preserve">41%</text>
<path d="M1047.50 807.25H1114.00A2.5 2.5 0 0 1 1116.50 809.75V829.05A2.5 2.5 0 0 1 1114.00 831.55H1047.50Z" fill="#a0faab"/>
<path d="M1047.50 831.25H1105.50A2.5 2.5 0 0 1 1108.00 833.75V853.30A2.5 2.5 0 0 1 1105.50 855.80H1047.50Z" fill="#38cc64"/>
<path d="M1047.50 855.50H1111.00A2.5 2.5 0 0 1 1113.50 858.00V877.80A2.5 2.5 0 0 1 1111.00 880.30H1047.50Z" fill="#1e9641"/>
<path d="M1047.50 796.50L1047.50 890.75" stroke="#6b6b6b" stroke-width="1.7" fill="none"/>
<text transform="translate(1121.75 825.93) scale(1.1300 1)" font-size="16" font-weight="700" text-anchor="start" fill="#10234c" xml:space="preserve">76%</text>
<text transform="translate(1113.50 850.05) scale(1.1300 1)" font-size="16" font-weight="700" text-anchor="start" fill="#10234c" xml:space="preserve">64%</text>
<text transform="translate(1117.50 876.43) scale(1.1300 1)" font-size="16" font-weight="700" text-anchor="start" fill="#10234c" xml:space="preserve">74%</text>
<path d="M1047.50 911.75H1120.50A2.5 2.5 0 0 1 1123.00 914.25V933.55A2.5 2.5 0 0 1 1120.50 936.05H1047.50Z" fill="#a0faab"/>
<path d="M1047.50 935.75H1099.00A2.5 2.5 0 0 1 1101.50 938.25V957.80A2.5 2.5 0 0 1 1099.00 960.30H1047.50Z" fill="#38cc64"/>
<path d="M1047.50 901.00L1047.50 995.00" stroke="#6b6b6b" stroke-width="1.7" fill="none"/>
<text transform="translate(1126.00 931.43) scale(1.1300 1)" font-size="16" font-weight="700" text-anchor="start" fill="#10234c" xml:space="preserve">84%</text>
<text transform="translate(1105.00 954.55) scale(1.1300 1)" font-size="16" font-weight="700" text-anchor="start" fill="#10234c" xml:space="preserve">55%</text>
<path d="M1047.50 1016.50H1101.25A2.5 2.5 0 0 1 1103.75 1019.00V1038.30A2.5 2.5 0 0 1 1101.25 1040.80H1047.50Z" fill="#a0faab"/>
<path d="M1047.50 1040.50H1077.50A2.5 2.5 0 0 1 1080.00 1043.00V1062.55A2.5 2.5 0 0 1 1077.50 1065.05H1047.50Z" fill="#38cc64"/>
<path d="M1047.50 1005.50L1047.50 1100.00" stroke="#6b6b6b" stroke-width="1.7" fill="none"/>
<text transform="translate(1109.25 1035.18) scale(1.1300 1)" font-size="16" font-weight="700" text-anchor="start" fill="#10234c" xml:space="preserve">56%</text>
<text transform="translate(1085.75 1060.31) scale(1.1300 1)" font-size="16" font-weight="700" text-anchor="start" fill="#10234c" xml:space="preserve">33%</text>
<path d="M1047.50 1133.00H1093.25A2.5 2.5 0 0 1 1095.75 1135.50V1154.80A2.5 2.5 0 0 1 1093.25 1157.30H1047.50Z" fill="#a0faab"/>
<path d="M1047.50 1122.00L1047.50 1178.00" stroke="#6b6b6b" stroke-width="1.7" fill="none"/>
<text transform="translate(1099.75 1150.68) scale(1.1300 1)" font-size="16" font-weight="700" text-anchor="start" fill="#10234c" xml:space="preserve">50%</text>
<path d="M279.00 1154.40L316.75 1154.40" stroke="#111" stroke-width="2" fill="none"/>
<text transform="translate(200.30 232.50) scale(0.9225 1)" font-size="22" font-weight="700" text-anchor="end" fill="#10234c" xml:space="preserve">BLIK</text>
<text transform="translate(200.30 326.25) scale(0.9798 1)" font-size="22" font-weight="700" text-anchor="end" fill="#10234c" xml:space="preserve">Płatność</text>
<text transform="translate(200.30 353.00) scale(1.0191 1)" font-size="22" font-weight="700" text-anchor="end" fill="#10234c" xml:space="preserve">kartą</text>
<text transform="translate(200.30 437.50) scale(0.9583 1)" font-size="22" font-weight="700" text-anchor="end" fill="#10234c" xml:space="preserve">Pay-By-Link</text>
<text transform="translate(200.30 529.50) scale(0.9728 1)" font-size="22" font-weight="700" text-anchor="end" fill="#10234c" xml:space="preserve">Przelew</text>
<text transform="translate(200.30 556.25) scale(0.9759 1)" font-size="22" font-weight="700" text-anchor="end" fill="#10234c" xml:space="preserve">tradycyjny</text>
<text transform="translate(200.30 653.75) scale(0.9242 1)" font-size="22" font-weight="700" text-anchor="end" fill="#10234c" xml:space="preserve">PayPal</text>
<text transform="translate(200.30 740.50) scale(0.9699 1)" font-size="22" font-weight="700" text-anchor="end" fill="#10234c" xml:space="preserve">Płatność za</text>
<text transform="translate(200.30 767.50) scale(0.9710 1)" font-size="22" font-weight="700" text-anchor="end" fill="#10234c" xml:space="preserve">pobraniem</text>
<text transform="translate(200.30 844.70) scale(0.9989 1)" font-size="22" font-weight="700" text-anchor="end" fill="#10234c" xml:space="preserve">Portfel</text>
<text transform="translate(200.30 871.90) scale(0.9900 1)" font-size="22" font-weight="700" text-anchor="end" fill="#10234c" xml:space="preserve">elektroniczny</text>
<text transform="translate(200.30 946.40) scale(0.9764 1)" font-size="22" font-weight="700" text-anchor="end" fill="#10234c" xml:space="preserve">Płatności</text>
<text transform="translate(200.30 973.30) scale(0.9773 1)" font-size="22" font-weight="700" text-anchor="end" fill="#10234c" xml:space="preserve">odroczone</text>
<text transform="translate(200.30 1049.50) scale(0.9764 1)" font-size="22" font-weight="700" text-anchor="end" fill="#10234c" xml:space="preserve">Płatności</text>
<text transform="translate(200.30 1076.70) scale(0.9852 1)" font-size="22" font-weight="700" text-anchor="end" fill="#10234c" xml:space="preserve">subskrypcyjne</text>
<text transform="translate(200.30 1144.00) scale(0.9764 1)" font-size="22" font-weight="700" text-anchor="end" fill="#10234c" xml:space="preserve">Płatności</text>
<text transform="translate(200.30 1170.50) scale(0.9732 1)" font-size="22" font-weight="700" text-anchor="end" fill="#10234c" xml:space="preserve">ratalne online</text>
<text transform="translate(1344.80 234.25) scale(0.9189 1)" font-size="21" font-weight="700" text-anchor="end" fill="#10234c" xml:space="preserve">BLIK</text>
<text transform="translate(1346.00 320.50) scale(0.9819 1)" font-size="21" font-weight="700" text-anchor="end" fill="#10234c" xml:space="preserve">Płatność</text>
<text transform="translate(1346.00 346.75) scale(1.0166 1)" font-size="21" font-weight="700" text-anchor="end" fill="#10234c" xml:space="preserve">kartą</text>
<text transform="translate(1346.00 435.50) scale(0.9620 1)" font-size="21" font-weight="700" text-anchor="end" fill="#10234c" xml:space="preserve">Pay-By-Link</text>
<text transform="translate(1346.00 524.25) scale(0.9740 1)" font-size="21" font-weight="700" text-anchor="end" fill="#10234c" xml:space="preserve">Przelew</text>
<text transform="translate(1346.00 549.75) scale(0.9790 1)" font-size="21" font-weight="700" text-anchor="end" fill="#10234c" xml:space="preserve">tradycyjny</text>
<text transform="translate(1346.00 637.25) scale(0.9240 1)" font-size="21" font-weight="700" text-anchor="end" fill="#10234c" xml:space="preserve">PayPal</text>
<text transform="translate(1346.00 720.50) scale(0.9735 1)" font-size="21" font-weight="700" text-anchor="end" fill="#10234c" xml:space="preserve">Płatność za</text>
<text transform="translate(1346.00 745.50) scale(0.9742 1)" font-size="21" font-weight="700" text-anchor="end" fill="#10234c" xml:space="preserve">pobraniem</text>
<text transform="translate(1346.00 818.00) scale(0.9991 1)" font-size="21" font-weight="700" text-anchor="end" fill="#10234c" xml:space="preserve">Portfel</text>
<text transform="translate(1346.00 843.75) scale(0.9945 1)" font-size="21" font-weight="700" text-anchor="end" fill="#10234c" xml:space="preserve">elektroniczny</text>
<text transform="translate(1346.00 904.25) scale(0.9788 1)" font-size="21" font-weight="700" text-anchor="end" fill="#10234c" xml:space="preserve">Płatności</text>
<text transform="translate(1346.00 930.50) scale(0.9805 1)" font-size="21" font-weight="700" text-anchor="end" fill="#10234c" xml:space="preserve">odroczone</text>
<text transform="translate(1346.00 1001.75) scale(0.9788 1)" font-size="21" font-weight="700" text-anchor="end" fill="#10234c" xml:space="preserve">Płatności</text>
<text transform="translate(1346.00 1028.00) scale(0.9900 1)" font-size="21" font-weight="700" text-anchor="end" fill="#10234c" xml:space="preserve">subskrypcyjne</text>
<text transform="translate(1346.00 1096.75) scale(0.9788 1)" font-size="21" font-weight="700" text-anchor="end" fill="#10234c" xml:space="preserve">Płatności</text>
<text transform="translate(1346.00 1123.00) scale(0.9776 1)" font-size="21" font-weight="700" text-anchor="end" fill="#10234c" xml:space="preserve">ratalne online</text>
<path d="M1395.50 189.50H1415.25A2.5 2.5 0 0 1 1417.75 192.00V210.30A2.5 2.5 0 0 1 1415.25 212.80H1395.50Z" fill="#a0faab"/>
<path d="M1395.50 212.50H1415.25A2.5 2.5 0 0 1 1417.75 215.00V234.05A2.5 2.5 0 0 1 1415.25 236.55H1395.50Z" fill="#38cc64"/>
<path d="M1395.50 236.25H1411.00A2.5 2.5 0 0 1 1413.50 238.75V257.30A2.5 2.5 0 0 1 1411.00 259.80H1395.50Z" fill="#1e9641"/>
<path d="M1395.50 179.25L1395.50 270.50" stroke="#2e2e2e" stroke-width="1.2" fill="none"/>
<text transform="translate(1423.50 208.48) scale(1.0850 1)" font-size="16" font-weight="400" text-anchor="start" fill="#10234c" stroke="#10234c" stroke-width="0.50" stroke-linejoin="round" xml:space="preserve">15%</text>
<text transform="translate(1421.75 231.86) scale(1.0850 1)" font-size="16" font-weight="400" text-anchor="start" fill="#10234c" stroke="#10234c" stroke-width="0.50" stroke-linejoin="round" xml:space="preserve">15%</text>
<text transform="translate(1418.75 255.36) scale(1.0850 1)" font-size="16" font-weight="400" text-anchor="start" fill="#10234c" stroke="#10234c" stroke-width="0.50" stroke-linejoin="round" xml:space="preserve">11%</text>
<path d="M1395.50 289.50H1423.75A2.5 2.5 0 0 1 1426.25 292.00V310.80A2.5 2.5 0 0 1 1423.75 313.30H1395.50Z" fill="#a0faab"/>
<path d="M1395.50 313.00H1423.75A2.5 2.5 0 0 1 1426.25 315.50V334.30A2.5 2.5 0 0 1 1423.75 336.80H1395.50Z" fill="#38cc64"/>
<path d="M1395.50 336.50H1425.50A2.5 2.5 0 0 1 1428.00 339.00V357.30A2.5 2.5 0 0 1 1425.50 359.80H1395.50Z" fill="#1e9641"/>
<path d="M1395.50 279.25L1395.50 370.50" stroke="#2e2e2e" stroke-width="1.2" fill="none"/>
<text transform="translate(1432.00 305.43) scale(1.0850 1)" font-size="16" font-weight="400" text-anchor="start" fill="#10234c" stroke="#10234c" stroke-width="0.50" stroke-linejoin="round" xml:space="preserve">24%</text>
<text transform="translate(1431.50 331.43) scale(1.0850 1)" font-size="16" font-weight="400" text-anchor="start" fill="#10234c" stroke="#10234c" stroke-width="0.50" stroke-linejoin="round" xml:space="preserve">24%</text>
<text transform="translate(1434.50 354.68) scale(1.0850 1)" font-size="16" font-weight="400" text-anchor="start" fill="#10234c" stroke="#10234c" stroke-width="0.50" stroke-linejoin="round" xml:space="preserve">25%</text>
<path d="M1395.50 389.50H1428.25A2.5 2.5 0 0 1 1430.75 392.00V410.80A2.5 2.5 0 0 1 1428.25 413.30H1395.50Z" fill="#a0faab"/>
<path d="M1395.50 413.00H1419.50A2.5 2.5 0 0 1 1422.00 415.50V434.05A2.5 2.5 0 0 1 1419.50 436.55H1395.50Z" fill="#38cc64"/>
<path d="M1395.50 436.25H1422.25A2.5 2.5 0 0 1 1424.75 438.75V457.30A2.5 2.5 0 0 1 1422.25 459.80H1395.50Z" fill="#1e9641"/>
<path d="M1395.50 379.25L1395.50 470.50" stroke="#2e2e2e" stroke-width="1.2" fill="none"/>
<text transform="translate(1435.75 407.93) scale(1.0850 1)" font-size="16" font-weight="400" text-anchor="start" fill="#10234c" stroke="#10234c" stroke-width="0.50" stroke-linejoin="round" xml:space="preserve">26%</text>
<text transform="translate(1425.25 431.31) scale(1.0850 1)" font-size="16" font-weight="400" text-anchor="start" fill="#10234c" stroke="#10234c" stroke-width="0.50" stroke-linejoin="round" xml:space="preserve">18%</text>
<text transform="translate(1431.25 454.56) scale(1.0850 1)" font-size="16" font-weight="400" text-anchor="start" fill="#10234c" stroke="#10234c" stroke-width="0.50" stroke-linejoin="round" xml:space="preserve">22%</text>
<path d="M1395.50 489.50H1419.50A2.5 2.5 0 0 1 1422.00 492.00V510.30A2.5 2.5 0 0 1 1419.50 512.80H1395.50Z" fill="#a0faab"/>
<path d="M1395.50 512.50H1428.25A2.5 2.5 0 0 1 1430.75 515.00V533.55A2.5 2.5 0 0 1 1428.25 536.05H1395.50Z" fill="#38cc64"/>
<path d="M1395.50 535.75H1438.50A2.5 2.5 0 0 1 1441.00 538.25V556.80A2.5 2.5 0 0 1 1438.50 559.30H1395.50Z" fill="#1e9641"/>
<path d="M1395.50 479.25L1395.50 570.00" stroke="#2e2e2e" stroke-width="1.2" fill="none"/>
<text transform="translate(1427.50 506.68) scale(1.0850 1)" font-size="16" font-weight="400" text-anchor="start" fill="#10234c" stroke="#10234c" stroke-width="0.50" stroke-linejoin="round" xml:space="preserve">19%</text>
<text transform="translate(1435.75 530.80) scale(1.0850 1)" font-size="16" font-weight="400" text-anchor="start" fill="#10234c" stroke="#10234c" stroke-width="0.50" stroke-linejoin="round" xml:space="preserve">26%</text>
<text transform="translate(1445.00 553.05) scale(1.0850 1)" font-size="16" font-weight="400" text-anchor="start" fill="#10234c" stroke="#10234c" stroke-width="0.50" stroke-linejoin="round" xml:space="preserve">31%</text>
<path d="M1395.50 589.25H1428.25A2.5 2.5 0 0 1 1430.75 591.75V609.80A2.5 2.5 0 0 1 1428.25 612.30H1395.50Z" fill="#a0faab"/>
<path d="M1395.50 612.00H1434.25A2.5 2.5 0 0 1 1436.75 614.50V633.30A2.5 2.5 0 0 1 1434.25 635.80H1395.50Z" fill="#38cc64"/>
<path d="M1395.50 635.50H1428.25A2.5 2.5 0 0 1 1430.75 638.00V656.80A2.5 2.5 0 0 1 1428.25 659.30H1395.50Z" fill="#1e9641"/>
<path d="M1395.50 578.25L1395.50 669.50" stroke="#2e2e2e" stroke-width="1.2" fill="none"/>
<text transform="translate(1435.75 607.30) scale(1.0850 1)" font-size="16" font-weight="400" text-anchor="start" fill="#10234c" stroke="#10234c" stroke-width="0.50" stroke-linejoin="round" xml:space="preserve">26%</text>
<text transform="translate(1441.50 630.43) scale(1.0850 1)" font-size="16" font-weight="400" text-anchor="start" fill="#10234c" stroke="#10234c" stroke-width="0.50" stroke-linejoin="round" xml:space="preserve">29%</text>
<text transform="translate(1435.75 653.93) scale(1.0850 1)" font-size="16" font-weight="400" text-anchor="start" fill="#10234c" stroke="#10234c" stroke-width="0.50" stroke-linejoin="round" xml:space="preserve">26%</text>
<path d="M1395.50 689.00H1412.25A2.5 2.5 0 0 1 1414.75 691.50V709.80A2.5 2.5 0 0 1 1412.25 712.30H1395.50Z" fill="#a0faab"/>
<path d="M1395.50 712.00H1428.25A2.5 2.5 0 0 1 1430.75 714.50V733.30A2.5 2.5 0 0 1 1428.25 735.80H1395.50Z" fill="#38cc64"/>
<path d="M1395.50 735.50H1419.50A2.5 2.5 0 0 1 1422.00 738.00V756.55A2.5 2.5 0 0 1 1419.50 759.05H1395.50Z" fill="#1e9641"/>
<path d="M1395.50 678.25L1395.50 769.50" stroke="#2e2e2e" stroke-width="1.2" fill="none"/>
<text transform="translate(1418.75 706.18) scale(1.0850 1)" font-size="16" font-weight="400" text-anchor="start" fill="#10234c" stroke="#10234c" stroke-width="0.50" stroke-linejoin="round" xml:space="preserve">12%</text>
<text transform="translate(1435.75 730.43) scale(1.0850 1)" font-size="16" font-weight="400" text-anchor="start" fill="#10234c" stroke="#10234c" stroke-width="0.50" stroke-linejoin="round" xml:space="preserve">27%</text>
<text transform="translate(1425.25 753.80) scale(1.0850 1)" font-size="16" font-weight="400" text-anchor="start" fill="#10234c" stroke="#10234c" stroke-width="0.50" stroke-linejoin="round" xml:space="preserve">18%</text>
<path d="M1395.50 786.00H1408.50A2.5 2.5 0 0 1 1411.00 788.50V807.30A2.5 2.5 0 0 1 1408.50 809.80H1395.50Z" fill="#a0faab"/>
<path d="M1395.50 809.50H1425.25A2.5 2.5 0 0 1 1427.75 812.00V830.30A2.5 2.5 0 0 1 1425.25 832.80H1395.50Z" fill="#38cc64"/>
<path d="M1395.50 832.50H1415.00A2.5 2.5 0 0 1 1417.50 835.00V853.55A2.5 2.5 0 0 1 1415.00 856.05H1395.50Z" fill="#1e9641"/>
<path d="M1395.50 775.50L1395.50 866.50" stroke="#2e2e2e" stroke-width="1.2" fill="none"/>
<text transform="translate(1416.75 803.43) scale(1.0850 1)" font-size="16" font-weight="400" text-anchor="start" fill="#10234c" stroke="#10234c" stroke-width="0.50" stroke-linejoin="round" xml:space="preserve">8%</text>
<text transform="translate(1431.50 826.18) scale(1.0850 1)" font-size="16" font-weight="400" text-anchor="start" fill="#10234c" stroke="#10234c" stroke-width="0.50" stroke-linejoin="round" xml:space="preserve">24%</text>
<text transform="translate(1422.75 850.80) scale(1.0850 1)" font-size="16" font-weight="400" text-anchor="start" fill="#10234c" stroke="#10234c" stroke-width="0.50" stroke-linejoin="round" xml:space="preserve">15%</text>
<path d="M1395.50 886.25H1432.50A2.5 2.5 0 0 1 1435.00 888.75V907.05A2.5 2.5 0 0 1 1432.50 909.55H1395.50Z" fill="#a0faab"/>
<path d="M1395.50 909.25H1461.25A2.5 2.5 0 0 1 1463.75 911.75V930.30A2.5 2.5 0 0 1 1461.25 932.80H1395.50Z" fill="#38cc64"/>
<path d="M1395.50 875.00L1395.50 966.25" stroke="#2e2e2e" stroke-width="1.2" fill="none"/>
<text transform="translate(1440.75 904.43) scale(1.0850 1)" font-size="16" font-weight="400" text-anchor="start" fill="#10234c" stroke="#10234c" stroke-width="0.50" stroke-linejoin="round" xml:space="preserve">28%</text>
<text transform="translate(1468.25 927.55) scale(1.0850 1)" font-size="16" font-weight="400" text-anchor="start" fill="#10234c" stroke="#10234c" stroke-width="0.50" stroke-linejoin="round" xml:space="preserve">45%</text>
<path d="M1395.50 986.25H1425.25A2.5 2.5 0 0 1 1427.75 988.75V1007.05A2.5 2.5 0 0 1 1425.25 1009.55H1395.50Z" fill="#a0faab"/>
<path d="M1395.50 1009.25H1431.25A2.5 2.5 0 0 1 1433.75 1011.75V1030.30A2.5 2.5 0 0 1 1431.25 1032.80H1395.50Z" fill="#38cc64"/>
<path d="M1395.50 975.00L1395.50 1066.25" stroke="#2e2e2e" stroke-width="1.2" fill="none"/>
<text transform="translate(1433.25 1003.43) scale(1.0850 1)" font-size="16" font-weight="400" text-anchor="start" fill="#10234c" stroke="#10234c" stroke-width="0.50" stroke-linejoin="round" xml:space="preserve">22%</text>
<text transform="translate(1439.25 1026.06) scale(1.0850 1)" font-size="16" font-weight="400" text-anchor="start" fill="#10234c" stroke="#10234c" stroke-width="0.50" stroke-linejoin="round" xml:space="preserve">27%</text>
<path d="M1395.50 1086.00H1444.25A2.5 2.5 0 0 1 1446.75 1088.50V1106.55A2.5 2.5 0 0 1 1444.25 1109.05H1395.50Z" fill="#a0faab"/>
<path d="M1395.50 1075.00L1395.50 1128.75" stroke="#2e2e2e" stroke-width="1.2" fill="none"/>
<text transform="translate(1451.75 1104.06) scale(1.0850 1)" font-size="16" font-weight="400" text-anchor="start" fill="#10234c" stroke="#10234c" stroke-width="0.50" stroke-linejoin="round" xml:space="preserve">38%</text>
<path d="M1602.75 189.50H1620.00A2.5 2.5 0 0 1 1622.50 192.00V210.30A2.5 2.5 0 0 1 1620.00 212.80H1602.75Z" fill="#a0faab"/>
<path d="M1602.75 212.50H1620.00A2.5 2.5 0 0 1 1622.50 215.00V234.05A2.5 2.5 0 0 1 1620.00 236.55H1602.75Z" fill="#38cc64"/>
<path d="M1602.75 236.25H1624.25A2.5 2.5 0 0 1 1626.75 238.75V257.30A2.5 2.5 0 0 1 1624.25 259.80H1602.75Z" fill="#1e9641"/>
<path d="M1602.75 179.25L1602.75 270.50" stroke="#2e2e2e" stroke-width="1.2" fill="none"/>
<text transform="translate(1627.50 208.48) scale(1.0850 1)" font-size="16" font-weight="400" text-anchor="start" fill="#10234c" stroke="#10234c" stroke-width="0.50" stroke-linejoin="round" xml:space="preserve">12%</text>
<text transform="translate(1627.50 231.86) scale(1.0850 1)" font-size="16" font-weight="400" text-anchor="start" fill="#10234c" stroke="#10234c" stroke-width="0.50" stroke-linejoin="round" xml:space="preserve">12%</text>
<text transform="translate(1631.00 255.36) scale(1.0850 1)" font-size="16" font-weight="400" text-anchor="start" fill="#10234c" stroke="#10234c" stroke-width="0.50" stroke-linejoin="round" xml:space="preserve">14%</text>
<path d="M1602.75 289.50H1616.50A2.5 2.5 0 0 1 1619.00 292.00V310.80A2.5 2.5 0 0 1 1616.50 313.30H1602.75Z" fill="#a0faab"/>
<path d="M1602.75 313.00H1618.25A2.5 2.5 0 0 1 1620.75 315.50V334.30A2.5 2.5 0 0 1 1618.25 336.80H1602.75Z" fill="#38cc64"/>
<path d="M1602.75 336.50H1613.75A2.5 2.5 0 0 1 1616.25 339.00V357.30A2.5 2.5 0 0 1 1613.75 359.80H1602.75Z" fill="#1e9641"/>
<path d="M1602.75 279.25L1602.75 370.50" stroke="#2e2e2e" stroke-width="1.2" fill="none"/>
<text transform="translate(1624.50 307.93) scale(1.0850 1)" font-size="16" font-weight="400" text-anchor="start" fill="#10234c" stroke="#10234c" stroke-width="0.50" stroke-linejoin="round" xml:space="preserve">8%</text>
<text transform="translate(1623.00 331.43) scale(1.0850 1)" font-size="16" font-weight="400" text-anchor="start" fill="#10234c" stroke="#10234c" stroke-width="0.50" stroke-linejoin="round" xml:space="preserve">9%</text>
<text transform="translate(1621.75 354.68) scale(1.0850 1)" font-size="16" font-weight="400" text-anchor="start" fill="#10234c" stroke="#10234c" stroke-width="0.50" stroke-linejoin="round" xml:space="preserve">7%</text>
<path d="M1602.75 389.50H1613.75A2.5 2.5 0 0 1 1616.25 392.00V410.80A2.5 2.5 0 0 1 1613.75 413.30H1602.75Z" fill="#a0faab"/>
<path d="M1602.75 413.00H1611.75A2.5 2.5 0 0 1 1614.25 415.50V434.05A2.5 2.5 0 0 1 1611.75 436.55H1602.75Z" fill="#38cc64"/>
<path d="M1602.75 436.25H1619.25A2.5 2.5 0 0 1 1621.75 438.75V457.30A2.5 2.5 0 0 1 1619.25 459.80H1602.75Z" fill="#1e9641"/>
<path d="M1602.75 379.25L1602.75 470.50" stroke="#2e2e2e" stroke-width="1.2" fill="none"/>
<text transform="translate(1621.75 406.43) scale(1.0850 1)" font-size="16" font-weight="400" text-anchor="start" fill="#10234c" stroke="#10234c" stroke-width="0.50" stroke-linejoin="round" xml:space="preserve">7%</text>
<text transform="translate(1618.75 430.31) scale(1.0850 1)" font-size="16" font-weight="400" text-anchor="start" fill="#10234c" stroke="#10234c" stroke-width="0.50" stroke-linejoin="round" xml:space="preserve">6%</text>
<text transform="translate(1625.50 454.56) scale(1.0850 1)" font-size="16" font-weight="400" text-anchor="start" fill="#10234c" stroke="#10234c" stroke-width="0.50" stroke-linejoin="round" xml:space="preserve">10%</text>
<path d="M1602.75 489.50H1612.00A2.5 2.5 0 0 1 1614.50 492.00V510.30A2.5 2.5 0 0 1 1612.00 512.80H1602.75Z" fill="#a0faab"/>
<path d="M1602.75 512.50H1616.50A2.5 2.5 0 0 1 1619.00 515.00V533.55A2.5 2.5 0 0 1 1616.50 536.05H1602.75Z" fill="#38cc64"/>
<path d="M1602.75 535.75H1619.25A2.5 2.5 0 0 1 1621.75 538.25V556.80A2.5 2.5 0 0 1 1619.25 559.30H1602.75Z" fill="#1e9641"/>
<path d="M1602.75 479.25L1602.75 570.00" stroke="#2e2e2e" stroke-width="1.2" fill="none"/>
<text transform="translate(1620.00 506.68) scale(1.0850 1)" font-size="16" font-weight="400" text-anchor="start" fill="#10234c" stroke="#10234c" stroke-width="0.50" stroke-linejoin="round" xml:space="preserve">4%</text>
<text transform="translate(1624.50 530.80) scale(1.0850 1)" font-size="16" font-weight="400" text-anchor="start" fill="#10234c" stroke="#10234c" stroke-width="0.50" stroke-linejoin="round" xml:space="preserve">8%</text>
<text transform="translate(1625.50 554.05) scale(1.0850 1)" font-size="16" font-weight="400" text-anchor="start" fill="#10234c" stroke="#10234c" stroke-width="0.50" stroke-linejoin="round" xml:space="preserve">10%</text>
<path d="M1602.75 589.25H1616.50A2.5 2.5 0 0 1 1619.00 591.75V609.80A2.5 2.5 0 0 1 1616.50 612.30H1602.75Z" fill="#a0faab"/>
<path d="M1602.75 612.00H1632.00A2.5 2.5 0 0 1 1634.50 614.50V633.30A2.5 2.5 0 0 1 1632.00 635.80H1602.75Z" fill="#38cc64"/>
<path d="M1602.75 635.50H1623.00A2.5 2.5 0 0 1 1625.50 638.00V656.80A2.5 2.5 0 0 1 1623.00 659.30H1602.75Z" fill="#1e9641"/>
<path d="M1602.75 578.25L1602.75 669.50" stroke="#2e2e2e" stroke-width="1.2" fill="none"/>
<text transform="translate(1624.50 607.30) scale(1.0850 1)" font-size="16" font-weight="400" text-anchor="start" fill="#10234c" stroke="#10234c" stroke-width="0.50" stroke-linejoin="round" xml:space="preserve">8%</text>
<text transform="translate(1640.00 630.43) scale(1.0850 1)" font-size="16" font-weight="400" text-anchor="start" fill="#10234c" stroke="#10234c" stroke-width="0.50" stroke-linejoin="round" xml:space="preserve">23%</text>
<text transform="translate(1628.75 653.93) scale(1.0850 1)" font-size="16" font-weight="400" text-anchor="start" fill="#10234c" stroke="#10234c" stroke-width="0.50" stroke-linejoin="round" xml:space="preserve">14%</text>
<path d="M1602.75 689.00H1605.12A2.375 2.375 0 0 1 1607.50 691.38V709.92A2.375 2.375 0 0 1 1605.12 712.30H1602.75Z" fill="#a0faab"/>
<path d="M1602.75 712.00H1621.00A2.5 2.5 0 0 1 1623.50 714.50V733.30A2.5 2.5 0 0 1 1621.00 735.80H1602.75Z" fill="#38cc64"/>
<path d="M1602.75 735.50H1612.75A2.5 2.5 0 0 1 1615.25 738.00V756.55A2.5 2.5 0 0 1 1612.75 759.05H1602.75Z" fill="#1e9641"/>
<path d="M1602.75 678.25L1602.75 769.50" stroke="#2e2e2e" stroke-width="1.2" fill="none"/>
<text transform="translate(1610.50 706.18) scale(1.0850 1)" font-size="16" font-weight="400" text-anchor="start" fill="#10234c" stroke="#10234c" stroke-width="0.50" stroke-linejoin="round" xml:space="preserve">1%</text>
<text transform="translate(1627.50 730.43) scale(1.0850 1)" font-size="16" font-weight="400" text-anchor="start" fill="#10234c" stroke="#10234c" stroke-width="0.50" stroke-linejoin="round" xml:space="preserve">13%</text>
<text transform="translate(1619.50 753.80) scale(1.0850 1)" font-size="16" font-weight="400" text-anchor="start" fill="#10234c" stroke="#10234c" stroke-width="0.50" stroke-linejoin="round" xml:space="preserve">5%</text>
<path d="M1602.75 786.00H1626.00A2.5 2.5 0 0 1 1628.50 788.50V807.30A2.5 2.5 0 0 1 1626.00 809.80H1602.75Z" fill="#a0faab"/>
<path d="M1602.75 809.50H1627.75A2.5 2.5 0 0 1 1630.25 812.00V830.30A2.5 2.5 0 0 1 1627.75 832.80H1602.75Z" fill="#38cc64"/>
<path d="M1602.75 832.50H1619.50A2.5 2.5 0 0 1 1622.00 835.00V853.55A2.5 2.5 0 0 1 1619.50 856.05H1602.75Z" fill="#1e9641"/>
<path d="M1602.75 775.50L1602.75 866.50" stroke="#2e2e2e" stroke-width="1.2" fill="none"/>
<text transform="translate(1632.00 803.43) scale(1.0850 1)" font-size="16" font-weight="400" text-anchor="start" fill="#10234c" stroke="#10234c" stroke-width="0.50" stroke-linejoin="round" xml:space="preserve">19%</text>
<text transform="translate(1635.25 826.18) scale(1.0850 1)" font-size="16" font-weight="400" text-anchor="start" fill="#10234c" stroke="#10234c" stroke-width="0.50" stroke-linejoin="round" xml:space="preserve">20%</text>
<text transform="translate(1625.75 850.80) scale(1.0850 1)" font-size="16" font-weight="400" text-anchor="start" fill="#10234c" stroke="#10234c" stroke-width="0.50" stroke-linejoin="round" xml:space="preserve">12%</text>
<path d="M1602.75 886.25H1619.50A2.5 2.5 0 0 1 1622.00 888.75V907.05A2.5 2.5 0 0 1 1619.50 909.55H1602.75Z" fill="#a0faab"/>
<path d="M1602.75 909.25H1626.00A2.5 2.5 0 0 1 1628.50 911.75V930.30A2.5 2.5 0 0 1 1626.00 932.80H1602.75Z" fill="#38cc64"/>
<path d="M1602.75 875.00L1602.75 966.25" stroke="#2e2e2e" stroke-width="1.2" fill="none"/>
<text transform="translate(1626.50 903.43) scale(1.0850 1)" font-size="16" font-weight="400" text-anchor="start" fill="#10234c" stroke="#10234c" stroke-width="0.50" stroke-linejoin="round" xml:space="preserve">12%</text>
<text transform="translate(1633.25 926.55) scale(1.0850 1)" font-size="16" font-weight="400" text-anchor="start" fill="#10234c" stroke="#10234c" stroke-width="0.50" stroke-linejoin="round" xml:space="preserve">19%</text>
<path d="M1602.75 986.25H1619.25A2.5 2.5 0 0 1 1621.75 988.75V1007.05A2.5 2.5 0 0 1 1619.25 1009.55H1602.75Z" fill="#a0faab"/>
<path d="M1602.75 1009.25H1638.00A2.5 2.5 0 0 1 1640.50 1011.75V1030.30A2.5 2.5 0 0 1 1638.00 1032.80H1602.75Z" fill="#38cc64"/>
<path d="M1602.75 975.00L1602.75 1066.25" stroke="#2e2e2e" stroke-width="1.2" fill="none"/>
<text transform="translate(1627.50 1003.43) scale(1.0850 1)" font-size="16" font-weight="400" text-anchor="start" fill="#10234c" stroke="#10234c" stroke-width="0.50" stroke-linejoin="round" xml:space="preserve">11%</text>
<text transform="translate(1645.75 1027.56) scale(1.0850 1)" font-size="16" font-weight="400" text-anchor="start" fill="#10234c" stroke="#10234c" stroke-width="0.50" stroke-linejoin="round" xml:space="preserve">27%</text>
<path d="M1602.75 1086.00H1622.00A2.5 2.5 0 0 1 1624.50 1088.50V1106.55A2.5 2.5 0 0 1 1622.00 1109.05H1602.75Z" fill="#a0faab"/>
<path d="M1602.75 1075.00L1602.75 1128.75" stroke="#2e2e2e" stroke-width="1.2" fill="none"/>
<text transform="translate(1629.50 1102.06) scale(1.0850 1)" font-size="16" font-weight="400" text-anchor="start" fill="#10234c" stroke="#10234c" stroke-width="0.50" stroke-linejoin="round" xml:space="preserve">13%</text>
<path d="M1820.50 189.50H1864.75A2.5 2.5 0 0 1 1867.25 192.00V210.30A2.5 2.5 0 0 1 1864.75 212.80H1820.50Z" fill="#a0faab"/>
<path d="M1820.50 212.50H1887.25A2.5 2.5 0 0 1 1889.75 215.00V234.05A2.5 2.5 0 0 1 1887.25 236.55H1820.50Z" fill="#38cc64"/>
<path d="M1820.50 236.25H1886.00A2.5 2.5 0 0 1 1888.50 238.75V257.30A2.5 2.5 0 0 1 1886.00 259.80H1820.50Z" fill="#1e9641"/>
<path d="M1820.50 179.25L1820.50 270.50" stroke="#2e2e2e" stroke-width="1.2" fill="none"/>
<text transform="translate(1873.00 207.68) scale(1.0850 1)" font-size="16" font-weight="400" text-anchor="start" fill="#10234c" stroke="#10234c" stroke-width="0.50" stroke-linejoin="round" xml:space="preserve">32%</text>
<text transform="translate(1895.00 232.06) scale(1.0850 1)" font-size="16" font-weight="400" text-anchor="start" fill="#10234c" stroke="#10234c" stroke-width="0.50" stroke-linejoin="round" xml:space="preserve">46%</text>
<text transform="translate(1892.00 255.06) scale(1.0850 1)" font-size="16" font-weight="400" text-anchor="start" fill="#10234c" stroke="#10234c" stroke-width="0.50" stroke-linejoin="round" xml:space="preserve">45%</text>
<path d="M1820.50 289.50H1868.00A2.5 2.5 0 0 1 1870.50 292.00V310.80A2.5 2.5 0 0 1 1868.00 313.30H1820.50Z" fill="#a0faab"/>
<path d="M1820.50 313.00H1872.25A2.5 2.5 0 0 1 1874.75 315.50V334.30A2.5 2.5 0 0 1 1872.25 336.80H1820.50Z" fill="#38cc64"/>
<path d="M1820.50 336.50H1894.25A2.5 2.5 0 0 1 1896.75 339.00V357.30A2.5 2.5 0 0 1 1894.25 359.80H1820.50Z" fill="#1e9641"/>
<path d="M1820.50 279.25L1820.50 370.50" stroke="#2e2e2e" stroke-width="1.2" fill="none"/>
<text transform="translate(1874.50 306.93) scale(1.0850 1)" font-size="16" font-weight="400" text-anchor="start" fill="#10234c" stroke="#10234c" stroke-width="0.50" stroke-linejoin="round" xml:space="preserve">37%</text>
<text transform="translate(1880.50 331.43) scale(1.0850 1)" font-size="16" font-weight="400" text-anchor="start" fill="#10234c" stroke="#10234c" stroke-width="0.50" stroke-linejoin="round" xml:space="preserve">39%</text>
<text transform="translate(1900.75 354.68) scale(1.0850 1)" font-size="16" font-weight="400" text-anchor="start" fill="#10234c" stroke="#10234c" stroke-width="0.50" stroke-linejoin="round" xml:space="preserve">53%</text>
<path d="M1820.50 389.50H1872.25A2.5 2.5 0 0 1 1874.75 392.00V410.80A2.5 2.5 0 0 1 1872.25 413.30H1820.50Z" fill="#a0faab"/>
<path d="M1820.50 413.00H1888.75A2.5 2.5 0 0 1 1891.25 415.50V434.05A2.5 2.5 0 0 1 1888.75 436.55H1820.50Z" fill="#38cc64"/>
<path d="M1820.50 436.25H1874.00A2.5 2.5 0 0 1 1876.50 438.75V457.30A2.5 2.5 0 0 1 1874.00 459.80H1820.50Z" fill="#1e9641"/>
<path d="M1820.50 379.25L1820.50 470.50" stroke="#2e2e2e" stroke-width="1.2" fill="none"/>
<text transform="translate(1880.50 407.93) scale(1.0850 1)" font-size="16" font-weight="400" text-anchor="start" fill="#10234c" stroke="#10234c" stroke-width="0.50" stroke-linejoin="round" xml:space="preserve">39%</text>
<text transform="translate(1895.00 431.31) scale(1.0850 1)" font-size="16" font-weight="400" text-anchor="start" fill="#10234c" stroke="#10234c" stroke-width="0.50" stroke-linejoin="round" xml:space="preserve">48%</text>
<text transform="translate(1881.50 454.56) scale(1.0850 1)" font-size="16" font-weight="400" text-anchor="start" fill="#10234c" stroke="#10234c" stroke-width="0.50" stroke-linejoin="round" xml:space="preserve">40%</text>
<path d="M1820.50 489.50H1867.00A2.5 2.5 0 0 1 1869.50 492.00V510.30A2.5 2.5 0 0 1 1867.00 512.80H1820.50Z" fill="#a0faab"/>
<path d="M1820.50 512.50H1872.25A2.5 2.5 0 0 1 1874.75 515.00V533.55A2.5 2.5 0 0 1 1872.25 536.05H1820.50Z" fill="#38cc64"/>
<path d="M1820.50 535.75H1897.50A2.5 2.5 0 0 1 1900.00 538.25V556.80A2.5 2.5 0 0 1 1897.50 559.30H1820.50Z" fill="#1e9641"/>
<path d="M1820.50 479.25L1820.50 570.00" stroke="#2e2e2e" stroke-width="1.2" fill="none"/>
<text transform="translate(1873.75 507.68) scale(1.0850 1)" font-size="16" font-weight="400" text-anchor="start" fill="#10234c" stroke="#10234c" stroke-width="0.50" stroke-linejoin="round" xml:space="preserve">35%</text>
<text transform="translate(1880.00 530.80) scale(1.0850 1)" font-size="16" font-weight="400" text-anchor="start" fill="#10234c" stroke="#10234c" stroke-width="0.50" stroke-linejoin="round" xml:space="preserve">39%</text>
<text transform="translate(1903.75 554.05) scale(1.0850 1)" font-size="16" font-weight="400" text-anchor="start" fill="#10234c" stroke="#10234c" stroke-width="0.50" stroke-linejoin="round" xml:space="preserve">57%</text>
<path d="M1820.50 589.25H1861.75A2.5 2.5 0 0 1 1864.25 591.75V609.80A2.5 2.5 0 0 1 1861.75 612.30H1820.50Z" fill="#a0faab"/>
<path d="M1820.50 612.00H1854.25A2.5 2.5 0 0 1 1856.75 614.50V633.30A2.5 2.5 0 0 1 1854.25 635.80H1820.50Z" fill="#38cc64"/>
<path d="M1820.50 635.50H1864.75A2.5 2.5 0 0 1 1867.25 638.00V656.80A2.5 2.5 0 0 1 1864.75 659.30H1820.50Z" fill="#1e9641"/>
<path d="M1820.50 578.25L1820.50 669.50" stroke="#2e2e2e" stroke-width="1.2" fill="none"/>
<text transform="translate(1869.00 607.30) scale(1.0850 1)" font-size="16" font-weight="400" text-anchor="start" fill="#10234c" stroke="#10234c" stroke-width="0.50" stroke-linejoin="round" xml:space="preserve">30%</text>
<text transform="translate(1860.75 630.43) scale(1.0850 1)" font-size="16" font-weight="400" text-anchor="start" fill="#10234c" stroke="#10234c" stroke-width="0.50" stroke-linejoin="round" xml:space="preserve">26%</text>
<text transform="translate(1872.00 653.93) scale(1.0850 1)" font-size="16" font-weight="400" text-anchor="start" fill="#10234c" stroke="#10234c" stroke-width="0.50" stroke-linejoin="round" xml:space="preserve">32%</text>
<path d="M1820.50 689.00H1864.75A2.5 2.5 0 0 1 1867.25 691.50V709.80A2.5 2.5 0 0 1 1864.75 712.30H1820.50Z" fill="#a0faab"/>
<path d="M1820.50 712.00H1860.25A2.5 2.5 0 0 1 1862.75 714.50V733.30A2.5 2.5 0 0 1 1860.25 735.80H1820.50Z" fill="#38cc64"/>
<path d="M1820.50 735.50H1868.50A2.5 2.5 0 0 1 1871.00 738.00V756.55A2.5 2.5 0 0 1 1868.50 759.05H1820.50Z" fill="#1e9641"/>
<path d="M1820.50 678.25L1820.50 769.50" stroke="#2e2e2e" stroke-width="1.2" fill="none"/>
<text transform="translate(1872.00 706.18) scale(1.0850 1)" font-size="16" font-weight="400" text-anchor="start" fill="#10234c" stroke="#10234c" stroke-width="0.50" stroke-linejoin="round" xml:space="preserve">32%</text>
<text transform="translate(1868.50 730.43) scale(1.0850 1)" font-size="16" font-weight="400" text-anchor="start" fill="#10234c" stroke="#10234c" stroke-width="0.50" stroke-linejoin="round" xml:space="preserve">29%</text>
<text transform="translate(1876.25 753.80) scale(1.0850 1)" font-size="16" font-weight="400" text-anchor="start" fill="#10234c" stroke="#10234c" stroke-width="0.50" stroke-linejoin="round" xml:space="preserve">36%</text>
<path d="M1820.50 786.00H1855.25A2.5 2.5 0 0 1 1857.75 788.50V807.30A2.5 2.5 0 0 1 1855.25 809.80H1820.50Z" fill="#a0faab"/>
<path d="M1820.50 809.50H1857.25A2.5 2.5 0 0 1 1859.75 812.00V830.30A2.5 2.5 0 0 1 1857.25 832.80H1820.50Z" fill="#38cc64"/>
<path d="M1820.50 832.50H1899.00A2.5 2.5 0 0 1 1901.50 835.00V853.55A2.5 2.5 0 0 1 1899.00 856.05H1820.50Z" fill="#1e9641"/>
<path d="M1820.50 775.50L1820.50 866.50" stroke="#2e2e2e" stroke-width="1.2" fill="none"/>
<text transform="translate(1863.75 803.43) scale(1.0850 1)" font-size="16" font-weight="400" text-anchor="start" fill="#10234c" stroke="#10234c" stroke-width="0.50" stroke-linejoin="round" xml:space="preserve">27%</text>
<text transform="translate(1865.50 826.18) scale(1.0850 1)" font-size="16" font-weight="400" text-anchor="start" fill="#10234c" stroke="#10234c" stroke-width="0.50" stroke-linejoin="round" xml:space="preserve">28%</text>
<text transform="translate(1905.00 850.80) scale(1.0850 1)" font-size="16" font-weight="400" text-anchor="start" fill="#10234c" stroke="#10234c" stroke-width="0.50" stroke-linejoin="round" xml:space="preserve">59%</text>
<path d="M1820.50 886.25H1857.25A2.5 2.5 0 0 1 1859.75 888.75V907.05A2.5 2.5 0 0 1 1857.25 909.55H1820.50Z" fill="#a0faab"/>
<path d="M1820.50 909.25H1843.50A2.5 2.5 0 0 1 1846.00 911.75V930.30A2.5 2.5 0 0 1 1843.50 932.80H1820.50Z" fill="#38cc64"/>
<path d="M1820.50 875.00L1820.50 966.25" stroke="#2e2e2e" stroke-width="1.2" fill="none"/>
<text transform="translate(1865.50 903.43) scale(1.0850 1)" font-size="16" font-weight="400" text-anchor="start" fill="#10234c" stroke="#10234c" stroke-width="0.50" stroke-linejoin="round" xml:space="preserve">28%</text>
<text transform="translate(1850.25 926.55) scale(1.0850 1)" font-size="16" font-weight="400" text-anchor="start" fill="#10234c" stroke="#10234c" stroke-width="0.50" stroke-linejoin="round" xml:space="preserve">19%</text>
<path d="M1820.50 986.25H1866.25A2.5 2.5 0 0 1 1868.75 988.75V1007.05A2.5 2.5 0 0 1 1866.25 1009.55H1820.50Z" fill="#a0faab"/>
<path d="M1820.50 975.00L1820.50 1066.25" stroke="#2e2e2e" stroke-width="1.2" fill="none"/>
<text transform="translate(1873.00 1003.43) scale(1.0850 1)" font-size="16" font-weight="400" text-anchor="start" fill="#10234c" stroke="#10234c" stroke-width="0.50" stroke-linejoin="round" xml:space="preserve">33%</text>
<text transform="translate(1823.75 1027.56) scale(1.0850 1)" font-size="16" font-weight="400" text-anchor="start" fill="#10234c" stroke="#10234c" stroke-width="0.50" stroke-linejoin="round" xml:space="preserve">0%</text>
<path d="M1820.50 1086.00H1839.75A2.5 2.5 0 0 1 1842.25 1088.50V1106.55A2.5 2.5 0 0 1 1839.75 1109.05H1820.50Z" fill="#a0faab"/>
<path d="M1820.50 1075.00L1820.50 1128.75" stroke="#2e2e2e" stroke-width="1.2" fill="none"/>
<text transform="translate(1847.50 1103.06) scale(1.0850 1)" font-size="16" font-weight="400" text-anchor="start" fill="#10234c" stroke="#10234c" stroke-width="0.50" stroke-linejoin="round" xml:space="preserve">13%</text>
<path d="M2032.70 187.00H2086.50A2.5 2.5 0 0 1 2089.00 189.50V207.80A2.5 2.5 0 0 1 2086.50 210.30H2032.70Z" fill="#a0faab"/>
<path d="M2032.70 176.20L2032.70 267.90" stroke="#2e2e2e" stroke-width="1.2" fill="none"/>
<text transform="translate(2093.20 206.18) scale(1.0850 1)" font-size="16" font-weight="400" text-anchor="start" fill="#10234c" stroke="#10234c" stroke-width="0.50" stroke-linejoin="round" xml:space="preserve">32%</text>
<path d="M2032.70 287.20H2052.50A2.5 2.5 0 0 1 2055.00 289.70V308.10A2.5 2.5 0 0 1 2052.50 310.60H2032.70Z" fill="#a0faab"/>
<path d="M2032.70 276.50L2032.70 367.60" stroke="#2e2e2e" stroke-width="1.2" fill="none"/>
<text transform="translate(2059.20 305.93) scale(1.0850 1)" font-size="16" font-weight="400" text-anchor="start" fill="#10234c" stroke="#10234c" stroke-width="0.50" stroke-linejoin="round" xml:space="preserve">14%</text>
<path d="M2032.70 387.20H2052.50A2.5 2.5 0 0 1 2055.00 389.70V408.10A2.5 2.5 0 0 1 2052.50 410.60H2032.70Z" fill="#a0faab"/>
<path d="M2032.70 376.50L2032.70 467.60" stroke="#2e2e2e" stroke-width="1.2" fill="none"/>
<text transform="translate(2059.20 405.43) scale(1.0850 1)" font-size="16" font-weight="400" text-anchor="start" fill="#10234c" stroke="#10234c" stroke-width="0.50" stroke-linejoin="round" xml:space="preserve">14%</text>
<path d="M2032.70 487.00H2042.00A2.5 2.5 0 0 1 2044.50 489.50V507.50A2.5 2.5 0 0 1 2042.00 510.00H2032.70Z" fill="#a0faab"/>
<path d="M2032.70 476.20L2032.70 566.80" stroke="#2e2e2e" stroke-width="1.2" fill="none"/>
<text transform="translate(2049.20 506.03) scale(1.0850 1)" font-size="16" font-weight="400" text-anchor="start" fill="#10234c" stroke="#10234c" stroke-width="0.50" stroke-linejoin="round" xml:space="preserve">4%</text>
<path d="M2032.70 586.70H2047.20A2.5 2.5 0 0 1 2049.70 589.20V607.50A2.5 2.5 0 0 1 2047.20 610.00H2032.70Z" fill="#a0faab"/>
<path d="M2032.70 576.00L2032.70 666.80" stroke="#2e2e2e" stroke-width="1.2" fill="none"/>
<text transform="translate(2053.70 604.38) scale(1.0850 1)" font-size="16" font-weight="400" text-anchor="start" fill="#10234c" stroke="#10234c" stroke-width="0.50" stroke-linejoin="round" xml:space="preserve">10%</text>
<path d="M2032.70 686.70H2042.00A2.5 2.5 0 0 1 2044.50 689.20V707.30A2.5 2.5 0 0 1 2042.00 709.80H2032.70Z" fill="#a0faab"/>
<path d="M2032.70 676.00L2032.70 766.80" stroke="#2e2e2e" stroke-width="1.2" fill="none"/>
<text transform="translate(2050.00 704.78) scale(1.0850 1)" font-size="16" font-weight="400" text-anchor="start" fill="#10234c" stroke="#10234c" stroke-width="0.50" stroke-linejoin="round" xml:space="preserve">4%</text>
<path d="M2032.70 783.60H2102.00A2.5 2.5 0 0 1 2104.50 786.10V804.40A2.5 2.5 0 0 1 2102.00 806.90H2032.70Z" fill="#a0faab"/>
<path d="M2032.70 773.00L2032.70 864.00" stroke="#2e2e2e" stroke-width="1.2" fill="none"/>
<text transform="translate(2108.60 801.78) scale(1.0850 1)" font-size="16" font-weight="400" text-anchor="start" fill="#10234c" stroke="#10234c" stroke-width="0.50" stroke-linejoin="round" xml:space="preserve">49%</text>
<path d="M2032.70 883.60H2059.30A2.5 2.5 0 0 1 2061.80 886.10V904.40A2.5 2.5 0 0 1 2059.30 906.90H2032.70Z" fill="#a0faab"/>
<path d="M2032.70 873.00L2032.70 963.70" stroke="#2e2e2e" stroke-width="1.2" fill="none"/>
<text transform="translate(2066.00 900.78) scale(1.0850 1)" font-size="16" font-weight="400" text-anchor="start" fill="#10234c" stroke="#10234c" stroke-width="0.50" stroke-linejoin="round" xml:space="preserve">20%</text>
<path d="M2032.70 983.30H2049.30A2.5 2.5 0 0 1 2051.80 985.80V1004.10A2.5 2.5 0 0 1 2049.30 1006.60H2032.70Z" fill="#a0faab"/>
<path d="M2032.70 972.80L2032.70 1063.70" stroke="#2e2e2e" stroke-width="1.2" fill="none"/>
<text transform="translate(2056.00 1001.48) scale(1.0850 1)" font-size="16" font-weight="400" text-anchor="start" fill="#10234c" stroke="#10234c" stroke-width="0.50" stroke-linejoin="round" xml:space="preserve">11%</text>
<path d="M2032.70 1072.70L2032.70 1126.60" stroke="#2e2e2e" stroke-width="1.2" fill="none"/>
<text transform="translate(2037.40 1101.38) scale(1.0850 1)" font-size="16" font-weight="400" text-anchor="start" fill="#10234c" stroke="#10234c" stroke-width="0.50" stroke-linejoin="round" xml:space="preserve">0%</text>
<text transform="translate(291.75 104.80) scale(1.0238 1)" font-size="21.3" font-weight="400" text-anchor="middle" fill="#10234c" xml:space="preserve"><tspan font-weight="400">Jest to </tspan><tspan font-weight="700">znana</tspan></text>
<text transform="translate(291.55 131.80) scale(1.0563 1)" font-size="21.3" font-weight="400" text-anchor="middle" fill="#10234c" xml:space="preserve">metoda płatności</text>
<text transform="translate(479.30 90.10) scale(1.0123 1)" font-size="21.3" font-weight="400" text-anchor="middle" fill="#10234c" xml:space="preserve">Mam przy niej</text>
<text transform="translate(479.10 117.10) scale(0.9919 1)" font-size="21.3" font-weight="700" text-anchor="middle" fill="#10234c" xml:space="preserve">poczucie</text>
<text transform="translate(479.30 144.00) scale(1.0063 1)" font-size="21.3" font-weight="700" text-anchor="middle" fill="#10234c" xml:space="preserve">bezpieczeństwa</text>
<text transform="translate(671.10 90.10) scale(1.0103 1)" font-size="21.3" font-weight="400" text-anchor="middle" fill="#10234c" xml:space="preserve"><tspan font-weight="400">Mam </tspan><tspan font-weight="700">pozytywne</tspan></text>
<text transform="translate(670.70 117.10) scale(0.9912 1)" font-size="21.3" font-weight="700" text-anchor="middle" fill="#10234c" xml:space="preserve">doświadczenia</text>
<text transform="translate(670.45 144.00) scale(1.0162 1)" font-size="21.3" font-weight="400" text-anchor="middle" fill="#10234c" xml:space="preserve">z tą metodą</text>
<text transform="translate(873.55 104.60) scale(1.0329 1)" font-size="21.3" font-weight="400" text-anchor="middle" fill="#10234c" xml:space="preserve"><tspan font-weight="400">Jest to </tspan><tspan font-weight="700">szybka</tspan></text>
<text transform="translate(873.75 131.70) scale(1.0563 1)" font-size="21.3" font-weight="400" text-anchor="middle" fill="#10234c" xml:space="preserve">metoda płatności</text>
<text transform="translate(1093.90 104.60) scale(1.0164 1)" font-size="21.3" font-weight="400" text-anchor="middle" fill="#10234c" xml:space="preserve"><tspan font-weight="400">Jest to </tspan><tspan font-weight="700">wygodna</tspan></text>
<text transform="translate(1094.55 131.70) scale(1.0538 1)" font-size="21.3" font-weight="400" text-anchor="middle" fill="#10234c" xml:space="preserve">metoda płatności</text>
<text transform="translate(1444.35 82.90) scale(1.0129 1)" font-size="20.3" font-weight="400" text-anchor="middle" fill="#10234c" xml:space="preserve">Mam poczucie, że</text>
<text transform="translate(1446.55 109.00) scale(1.0287 1)" font-size="20.3" font-weight="400" text-anchor="middle" fill="#10234c" xml:space="preserve">w razie problemów</text>
<text transform="translate(1446.85 135.20) scale(1.0383 1)" font-size="20.3" font-weight="400" text-anchor="middle" fill="#10234c" xml:space="preserve"><tspan font-weight="400">dostanę </tspan><tspan font-weight="700">zwrot</tspan></text>
<text transform="translate(1446.40 161.10) scale(0.9967 1)" font-size="20.3" font-weight="700" text-anchor="middle" fill="#10234c" xml:space="preserve">pieniędzy</text>
<text transform="translate(1646.30 96.30) scale(1.0152 1)" font-size="20.3" font-weight="400" text-anchor="middle" fill="#10234c" xml:space="preserve">Podoba mi się</text>
<text transform="translate(1646.05 122.40) scale(0.9959 1)" font-size="20.3" font-weight="400" text-anchor="middle" fill="#10234c" xml:space="preserve"><tspan font-weight="700">wygląd strony</tspan><tspan font-weight="400"> tej</tspan></text>
<text transform="translate(1646.05 148.30) scale(1.0694 1)" font-size="20.3" font-weight="400" text-anchor="middle" fill="#10234c" xml:space="preserve">metody płatności</text>
<text transform="translate(1858.35 93.70) scale(1.0237 1)" font-size="20.3" font-weight="700" text-anchor="middle" fill="#10234c" xml:space="preserve">Przyzwyczaiłem/am</text>
<text transform="translate(1858.05 119.70) scale(1.0472 1)" font-size="20.3" font-weight="400" text-anchor="middle" fill="#10234c" xml:space="preserve">się do tej metody</text>
<text transform="translate(1858.20 145.30) scale(1.0784 1)" font-size="20.3" font-weight="400" text-anchor="middle" fill="#10234c" xml:space="preserve">płatności</text>
<text transform="translate(2064.80 93.70) scale(1.0035 1)" font-size="20.3" font-weight="400" text-anchor="middle" fill="#10234c" xml:space="preserve"><tspan font-weight="400">Lubię ją, bo </tspan><tspan font-weight="700">działa</tspan></text>
<text transform="translate(2064.75 119.70) scale(0.9961 1)" font-size="20.3" font-weight="700" text-anchor="middle" fill="#10234c" xml:space="preserve">dobrze na</text>
<text transform="translate(2064.95 145.30) scale(1.0204 1)" font-size="20.3" font-weight="700" text-anchor="middle" fill="#10234c" xml:space="preserve">smartfonie</text>
<text transform="translate(168.35 46.60) scale(0.9825 1)" font-size="15.6" font-weight="400" text-anchor="middle" fill="#506388" xml:space="preserve">Odpowiedź usunięta w III edycji badania</text>
<path d="M24.4 45.7V53H277L286.5 61.7L295.7 53H313.5V45.7" stroke="#506388" stroke-width="1" fill="none"/>
<text transform="translate(2119.50 35.60) scale(1.0024 1)" font-size="14.7" font-weight="400" text-anchor="middle" fill="#506388" xml:space="preserve">Odpowiedź dodana w III edycji badania</text>
<path d="M1981.8 35V43.4H2054.1L2060.2 51.4L2066.3 43.4H2256.7V35" stroke="#506388" stroke-width="1" fill="none"/>
</svg>
</body></html>
